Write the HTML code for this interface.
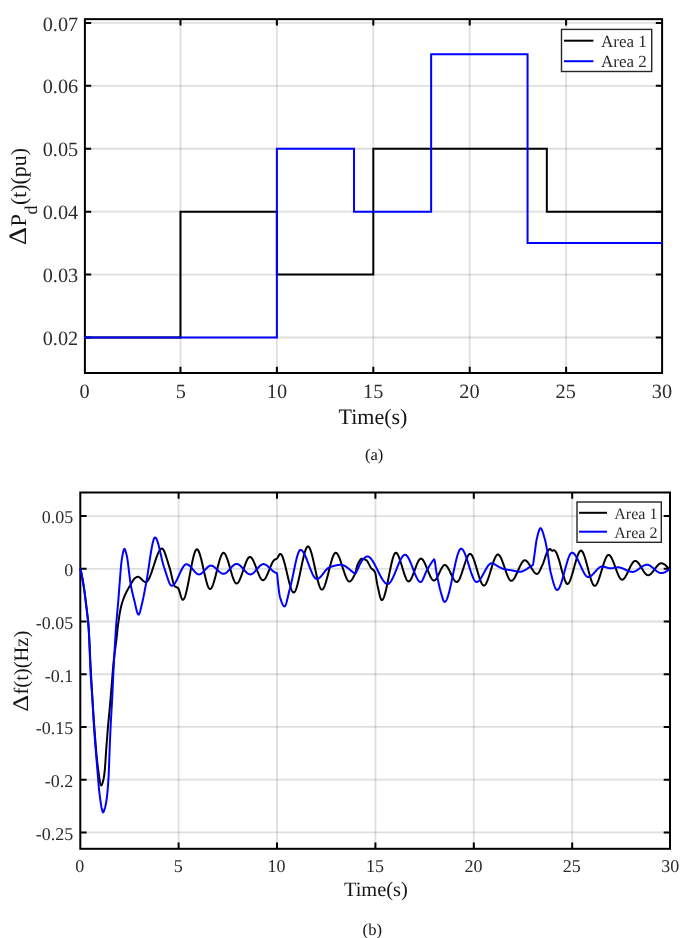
<!DOCTYPE html>
<html><head><meta charset="utf-8"><style>
html,body{margin:0;padding:0;background:#fff;}
body{width:685px;height:938px;position:relative;overflow:hidden;font-family:"Liberation Serif", serif;}
svg{fill:#151515;} svg text{font-family:"Liberation Serif", serif;text-rendering:geometricPrecision;}
</style></head><body>
<svg width="685" height="938" viewBox="0 0 685 938" style="position:absolute;left:0;top:0;will-change:transform">
<line x1="180.47" y1="19.15" x2="180.47" y2="373.00" stroke="#262626" stroke-opacity="0.15" stroke-width="1.8"/>
<line x1="276.88" y1="19.15" x2="276.88" y2="373.00" stroke="#262626" stroke-opacity="0.15" stroke-width="1.8"/>
<line x1="373.30" y1="19.15" x2="373.30" y2="373.00" stroke="#262626" stroke-opacity="0.15" stroke-width="1.8"/>
<line x1="469.71" y1="19.15" x2="469.71" y2="373.00" stroke="#262626" stroke-opacity="0.15" stroke-width="1.8"/>
<line x1="566.12" y1="19.15" x2="566.12" y2="373.00" stroke="#262626" stroke-opacity="0.15" stroke-width="1.8"/>
<line x1="84.90" y1="337.50" x2="662.10" y2="337.50" stroke="#262626" stroke-opacity="0.15" stroke-width="1.8"/>
<line x1="84.90" y1="274.58" x2="662.10" y2="274.58" stroke="#262626" stroke-opacity="0.15" stroke-width="1.8"/>
<line x1="84.90" y1="211.66" x2="662.10" y2="211.66" stroke="#262626" stroke-opacity="0.15" stroke-width="1.8"/>
<line x1="84.90" y1="148.74" x2="662.10" y2="148.74" stroke="#262626" stroke-opacity="0.15" stroke-width="1.8"/>
<line x1="84.90" y1="85.82" x2="662.10" y2="85.82" stroke="#262626" stroke-opacity="0.15" stroke-width="1.8"/>
<line x1="84.90" y1="22.90" x2="662.10" y2="22.90" stroke="#262626" stroke-opacity="0.15" stroke-width="1.8"/>
<path d="M180.47 373.00V366.70M180.47 19.15V25.45M276.88 373.00V366.70M276.88 19.15V25.45M373.30 373.00V366.70M373.30 19.15V25.45M469.71 373.00V366.70M469.71 19.15V25.45M566.12 373.00V366.70M566.12 19.15V25.45M84.90 337.50H91.20M662.10 337.50H655.80M84.90 274.58H91.20M662.10 274.58H655.80M84.90 211.66H91.20M662.10 211.66H655.80M84.90 148.74H91.20M662.10 148.74H655.80M84.90 85.82H91.20M662.10 85.82H655.80M84.90 22.90H91.20M662.10 22.90H655.80" stroke="#000" stroke-width="2.0" fill="none"/>
<rect x="84.90" y="19.15" width="577.20" height="353.85" stroke="#000" stroke-width="2.0" fill="none"/>
<path d="M84.05 337.50 L180.47 337.50 L180.47 211.66 L276.88 211.66 L276.88 274.58 L373.30 274.58 L373.30 148.74 L546.84 148.74 L546.84 211.66 L662.54 211.66" stroke="#000" stroke-width="2.0" fill="none" stroke-linejoin="miter" stroke-miterlimit="10"/>
<path d="M84.05 337.50 L276.88 337.50 L276.88 148.74 L354.01 148.74 L354.01 211.66 L431.14 211.66 L431.14 54.36 L527.56 54.36 L527.56 243.12 L662.54 243.12" stroke="#0000ff" stroke-width="2.0" fill="none" stroke-linejoin="miter" stroke-miterlimit="10"/>
<text x="84.50" y="397.9" font-size="20.3" text-anchor="middle" fill="#2b2b2b">0</text>
<text x="180.75" y="397.9" font-size="20.3" text-anchor="middle" fill="#2b2b2b">5</text>
<text x="277.00" y="397.9" font-size="20.3" text-anchor="middle" fill="#2b2b2b">10</text>
<text x="373.25" y="397.9" font-size="20.3" text-anchor="middle" fill="#2b2b2b">15</text>
<text x="469.50" y="397.9" font-size="20.3" text-anchor="middle" fill="#2b2b2b">20</text>
<text x="565.75" y="397.9" font-size="20.3" text-anchor="middle" fill="#2b2b2b">25</text>
<text x="662.00" y="397.9" font-size="20.3" text-anchor="middle" fill="#2b2b2b">30</text>
<text x="78.2" y="345.10" font-size="20.3" text-anchor="end" fill="#2b2b2b">0.02</text>
<text x="78.2" y="282.18" font-size="20.3" text-anchor="end" fill="#2b2b2b">0.03</text>
<text x="78.2" y="219.26" font-size="20.3" text-anchor="end" fill="#2b2b2b">0.04</text>
<text x="78.2" y="156.34" font-size="20.3" text-anchor="end" fill="#2b2b2b">0.05</text>
<text x="78.2" y="93.42" font-size="20.3" text-anchor="end" fill="#2b2b2b">0.06</text>
<text x="78.2" y="30.50" font-size="20.3" text-anchor="end" fill="#2b2b2b">0.07</text>
<rect x="561.5" y="29.4" width="90.2" height="42.1" fill="#fff" stroke="#262626" stroke-width="1.4"/>
<line x1="564" y1="40.7" x2="593.4" y2="40.7" stroke="#000" stroke-width="2"/>
<line x1="564" y1="61.2" x2="593.4" y2="61.2" stroke="#0000ff" stroke-width="2"/>
<text x="601" y="47.2" font-size="17" fill="#2b2b2b">Area 1</text>
<text x="601" y="67.3" font-size="17" fill="#2b2b2b">Area 2</text>
<text x="373.0" y="423.8" font-size="22" text-anchor="middle">Time(s)</text>
<g transform="translate(25.6 244) rotate(-90)"><text transform="translate(-0.9 0) scale(1.12 1)" x="0" y="0" font-size="25">&#916;</text><text x="17.55" y="0" font-size="22.3">P</text><text x="29.55" y="11.2" font-size="18">d</text><text x="38.9" y="0" font-size="21.9">(t)(pu)</text></g>
<text x="374.1" y="460.2" font-size="16.6" text-anchor="middle">(a)</text>
<line x1="178.60" y1="492.50" x2="178.60" y2="848.80" stroke="#262626" stroke-opacity="0.15" stroke-width="1.8"/>
<line x1="277.00" y1="492.50" x2="277.00" y2="848.80" stroke="#262626" stroke-opacity="0.15" stroke-width="1.8"/>
<line x1="375.40" y1="492.50" x2="375.40" y2="848.80" stroke="#262626" stroke-opacity="0.15" stroke-width="1.8"/>
<line x1="473.80" y1="492.50" x2="473.80" y2="848.80" stroke="#262626" stroke-opacity="0.15" stroke-width="1.8"/>
<line x1="572.20" y1="492.50" x2="572.20" y2="848.80" stroke="#262626" stroke-opacity="0.15" stroke-width="1.8"/>
<line x1="80.30" y1="832.42" x2="670.00" y2="832.42" stroke="#262626" stroke-opacity="0.15" stroke-width="1.8"/>
<line x1="80.30" y1="779.70" x2="670.00" y2="779.70" stroke="#262626" stroke-opacity="0.15" stroke-width="1.8"/>
<line x1="80.30" y1="726.97" x2="670.00" y2="726.97" stroke="#262626" stroke-opacity="0.15" stroke-width="1.8"/>
<line x1="80.30" y1="674.25" x2="670.00" y2="674.25" stroke="#262626" stroke-opacity="0.15" stroke-width="1.8"/>
<line x1="80.30" y1="621.52" x2="670.00" y2="621.52" stroke="#262626" stroke-opacity="0.15" stroke-width="1.8"/>
<line x1="80.30" y1="568.80" x2="670.00" y2="568.80" stroke="#262626" stroke-opacity="0.15" stroke-width="1.8"/>
<line x1="80.30" y1="516.07" x2="670.00" y2="516.07" stroke="#262626" stroke-opacity="0.15" stroke-width="1.8"/>
<path d="M178.60 848.80V842.50M178.60 492.50V498.80M277.00 848.80V842.50M277.00 492.50V498.80M375.40 848.80V842.50M375.40 492.50V498.80M473.80 848.80V842.50M473.80 492.50V498.80M572.20 848.80V842.50M572.20 492.50V498.80M80.30 832.42H86.60M670.00 832.42H663.70M80.30 779.70H86.60M670.00 779.70H663.70M80.30 726.97H86.60M670.00 726.97H663.70M80.30 674.25H86.60M670.00 674.25H663.70M80.30 621.52H86.60M670.00 621.52H663.70M80.30 568.80H86.60M670.00 568.80H663.70M80.30 516.07H86.60M670.00 516.07H663.70" stroke="#000" stroke-width="2.0" fill="none"/>
<rect x="80.30" y="492.50" width="589.70" height="356.30" stroke="#000" stroke-width="2.0" fill="none"/>
<path d="M80.30 568.60 L80.55 569.58 L80.80 570.61 L81.05 571.70 L81.30 572.83 L81.55 574.02 L81.80 575.25 L82.05 576.53 L82.30 577.84 L82.55 579.20 L82.80 580.60 L83.05 582.03 L83.30 583.50 L83.55 585.02 L83.80 586.60 L84.05 588.24 L84.30 589.95 L84.55 591.71 L84.80 593.52 L85.05 595.39 L85.30 597.31 L85.55 599.28 L85.80 601.29 L86.05 603.34 L86.30 605.44 L86.55 607.57 L86.80 609.72 L87.05 611.89 L87.30 614.11 L87.55 616.43 L87.80 618.87 L88.05 621.48 L88.30 624.29 L88.55 627.35 L88.80 630.83 L89.05 634.91 L89.30 639.50 L89.55 644.45 L89.80 649.65 L90.05 654.96 L90.30 660.27 L90.55 665.44 L90.80 670.35 L91.05 674.88 L91.30 679.24 L91.55 683.58 L91.80 687.88 L92.05 692.13 L92.30 696.32 L92.55 700.46 L92.80 704.51 L93.05 708.49 L93.30 712.37 L93.55 716.15 L93.80 719.82 L94.05 723.37 L94.30 726.80 L94.55 730.16 L94.80 733.51 L95.05 736.83 L95.30 740.11 L95.55 743.32 L95.80 746.45 L96.05 749.49 L96.30 752.40 L96.55 755.19 L96.80 757.82 L97.05 760.28 L97.30 762.55 L97.55 764.61 L97.80 766.55 L98.05 768.51 L98.30 770.49 L98.55 772.45 L98.80 774.37 L99.05 776.22 L99.30 777.97 L99.55 779.60 L99.80 781.09 L100.05 782.40 L100.30 783.50 L100.55 784.38 L100.80 785.00 L101.05 785.34 L101.30 785.38 L101.55 785.19 L101.80 784.81 L102.05 784.27 L102.30 783.58 L102.55 782.79 L102.80 781.91 L103.05 780.97 L103.30 779.99 L103.55 778.96 L103.80 777.66 L104.05 776.09 L104.30 774.28 L104.55 772.24 L104.80 770.00 L105.05 767.18 L105.30 763.61 L105.55 759.63 L105.80 755.58 L106.05 751.80 L106.30 748.38 L106.55 745.03 L106.80 741.72 L107.05 738.48 L107.30 735.30 L107.55 732.19 L107.80 729.16 L108.05 726.22 L108.30 723.40 L108.55 720.70 L108.80 718.07 L109.05 715.47 L109.30 712.88 L109.55 710.24 L109.80 707.52 L110.05 704.69 L110.30 701.80 L110.55 698.85 L110.80 695.86 L111.05 692.85 L111.30 689.82 L111.55 686.80 L111.80 683.79 L112.05 680.67 L112.30 677.47 L112.55 674.25 L112.80 671.08 L113.05 668.02 L113.30 665.14 L113.55 662.49 L113.80 660.10 L114.05 657.87 L114.30 655.77 L114.55 653.77 L114.80 651.85 L115.05 649.98 L115.30 648.14 L115.55 646.30 L115.80 644.42 L116.05 642.50 L116.30 640.49 L116.55 638.36 L116.80 636.07 L117.05 633.64 L117.30 631.19 L117.55 628.81 L117.80 626.59 L118.05 624.63 L118.30 622.80 L118.55 621.02 L118.80 619.28 L119.05 617.61 L119.30 615.99 L119.55 614.44 L119.80 612.96 L120.05 611.56 L120.30 610.23 L120.55 609.00 L120.80 607.85 L121.05 606.80 L121.30 605.81 L121.55 604.86 L121.80 603.96 L122.05 603.10 L122.30 602.28 L122.55 601.49 L122.80 600.73 L123.05 600.01 L123.30 599.31 L123.55 598.63 L123.80 597.98 L124.05 597.34 L124.30 596.72 L124.55 596.12 L124.80 595.53 L125.05 594.95 L125.30 594.39 L125.55 593.85 L125.80 593.31 L126.05 592.79 L126.30 592.28 L126.55 591.79 L126.80 591.30 L127.05 590.82 L127.30 590.35 L127.55 589.89 L127.80 589.44 L128.05 589.00 L128.30 588.56 L128.55 588.12 L128.80 587.69 L129.05 587.27 L129.30 586.84 L129.55 586.42 L129.80 586.00 L130.05 585.59 L130.30 585.17 L130.55 584.75 L130.80 584.32 L131.05 583.88 L131.30 583.43 L131.55 582.98 L131.80 582.53 L132.05 582.09 L132.30 581.65 L132.55 581.22 L132.80 580.81 L133.05 580.41 L133.30 580.02 L133.55 579.66 L133.80 579.32 L134.05 579.01 L134.30 578.73 L134.55 578.48 L134.80 578.27 L135.05 578.09 L135.30 577.92 L135.55 577.74 L135.80 577.58 L136.05 577.42 L136.30 577.27 L136.55 577.14 L136.80 577.03 L137.05 576.93 L137.30 576.86 L137.55 576.82 L137.80 576.80 L138.05 576.82 L138.30 576.86 L138.55 576.93 L138.80 577.03 L139.05 577.15 L139.30 577.29 L139.55 577.45 L139.80 577.63 L140.05 577.82 L140.30 578.03 L140.55 578.25 L140.80 578.48 L141.05 578.71 L141.30 578.96 L141.55 579.20 L141.80 579.45 L142.05 579.70 L142.30 579.94 L142.55 580.19 L142.80 580.42 L143.05 580.65 L143.30 580.87 L143.55 581.08 L143.80 581.27 L144.05 581.45 L144.30 581.61 L144.55 581.75 L144.80 581.87 L145.05 581.97 L145.30 582.04 L145.55 582.08 L145.80 582.10 L146.05 582.08 L146.30 582.01 L146.55 581.89 L146.80 581.73 L147.05 581.53 L147.30 581.28 L147.55 581.00 L147.80 580.68 L148.05 580.32 L148.30 579.93 L148.55 579.50 L148.80 579.04 L149.05 578.56 L149.30 578.04 L149.55 577.49 L149.80 576.92 L150.05 576.33 L150.30 575.71 L150.55 575.07 L150.80 574.41 L151.05 573.74 L151.30 573.04 L151.55 572.33 L151.80 571.61 L152.05 570.87 L152.30 570.13 L152.55 569.37 L152.80 568.61 L153.05 567.84 L153.30 567.06 L153.55 566.29 L153.80 565.51 L154.05 564.73 L154.30 563.95 L154.55 563.17 L154.80 562.40 L155.05 561.63 L155.30 560.87 L155.55 560.12 L155.80 559.38 L156.05 558.65 L156.30 557.94 L156.55 557.24 L156.80 556.55 L157.05 555.89 L157.30 555.24 L157.55 554.62 L157.80 554.01 L158.05 553.43 L158.30 552.88 L158.55 552.35 L158.80 551.85 L159.05 551.38 L159.30 550.94 L159.55 550.53 L159.80 550.16 L160.05 549.83 L160.30 549.53 L160.55 549.27 L160.80 549.05 L161.05 548.87 L161.30 548.74 L161.55 548.65 L161.80 548.60 L162.05 548.61 L162.30 548.69 L162.55 548.84 L162.80 549.06 L163.05 549.33 L163.30 549.67 L163.55 550.06 L163.80 550.51 L164.05 551.00 L164.30 551.54 L164.55 552.12 L164.80 552.75 L165.05 553.40 L165.30 554.10 L165.55 554.82 L165.80 555.56 L166.05 556.33 L166.30 557.12 L166.55 557.93 L166.80 558.74 L167.05 559.57 L167.30 560.41 L167.55 561.24 L167.80 562.08 L168.05 562.91 L168.30 563.74 L168.55 564.55 L168.80 565.35 L169.05 566.14 L169.30 566.90 L169.55 567.65 L169.80 568.44 L170.05 569.31 L170.30 570.24 L170.55 571.23 L170.80 572.26 L171.05 573.33 L171.30 574.42 L171.55 575.53 L171.80 576.63 L172.05 577.73 L172.30 578.81 L172.55 579.86 L172.80 580.87 L173.05 581.84 L173.30 582.74 L173.55 583.57 L173.80 584.32 L174.05 584.98 L174.30 585.54 L174.55 585.98 L174.80 586.31 L175.05 586.52 L175.30 586.68 L175.55 586.82 L175.80 586.94 L176.05 587.04 L176.30 587.13 L176.55 587.21 L176.80 587.30 L177.05 587.40 L177.30 587.52 L177.55 587.66 L177.80 587.82 L178.05 588.04 L178.30 588.39 L178.55 588.86 L178.80 589.43 L179.05 590.09 L179.30 590.82 L179.55 591.61 L179.80 592.44 L180.05 593.30 L180.30 594.16 L180.55 595.02 L180.80 595.85 L181.05 596.65 L181.30 597.39 L181.55 598.06 L181.80 598.64 L182.05 599.13 L182.30 599.49 L182.55 599.72 L182.80 599.80 L183.05 599.75 L183.30 599.61 L183.55 599.39 L183.80 599.07 L184.05 598.68 L184.30 598.21 L184.55 597.66 L184.80 597.04 L185.05 596.35 L185.30 595.60 L185.55 594.79 L185.80 593.91 L186.05 592.99 L186.30 592.01 L186.55 590.98 L186.80 589.91 L187.05 588.80 L187.30 587.65 L187.55 586.47 L187.80 585.25 L188.05 584.01 L188.30 582.74 L188.55 581.45 L188.80 580.15 L189.05 578.83 L189.30 577.50 L189.55 576.16 L189.80 574.82 L190.05 573.48 L190.30 572.14 L190.55 570.80 L190.80 569.48 L191.05 568.17 L191.30 566.87 L191.55 565.59 L191.80 564.34 L192.05 563.11 L192.30 561.92 L192.55 560.75 L192.80 559.63 L193.05 558.54 L193.30 557.49 L193.55 556.50 L193.80 555.55 L194.05 554.66 L194.30 553.82 L194.55 553.04 L194.80 552.33 L195.05 551.68 L195.30 551.10 L195.55 550.60 L195.80 550.17 L196.05 549.83 L196.30 549.57 L196.55 549.39 L196.80 549.31 L197.05 549.32 L197.30 549.41 L197.55 549.58 L197.80 549.83 L198.05 550.15 L198.30 550.55 L198.55 551.01 L198.80 551.53 L199.05 552.12 L199.30 552.76 L199.55 553.46 L199.80 554.21 L200.05 555.00 L200.30 555.84 L200.55 556.73 L200.80 557.65 L201.05 558.60 L201.30 559.59 L201.55 560.61 L201.80 561.65 L202.05 562.71 L202.30 563.80 L202.55 564.89 L202.80 566.00 L203.05 567.12 L203.30 568.25 L203.55 569.38 L203.80 570.50 L204.05 571.63 L204.30 572.74 L204.55 573.85 L204.80 574.94 L205.05 576.01 L205.30 577.07 L205.55 578.10 L205.80 579.11 L206.05 580.08 L206.30 581.02 L206.55 581.93 L206.80 582.80 L207.05 583.62 L207.30 584.40 L207.55 585.13 L207.80 585.80 L208.05 586.42 L208.30 586.99 L208.55 587.49 L208.80 587.92 L209.05 588.29 L209.30 588.58 L209.55 588.80 L209.80 588.94 L210.05 589.00 L210.30 588.98 L210.55 588.88 L210.80 588.71 L211.05 588.48 L211.30 588.18 L211.55 587.82 L211.80 587.40 L212.05 586.92 L212.30 586.39 L212.55 585.81 L212.80 585.18 L213.05 584.51 L213.30 583.79 L213.55 583.04 L213.80 582.24 L214.05 581.42 L214.30 580.56 L214.55 579.67 L214.80 578.76 L215.05 577.83 L215.30 576.88 L215.55 575.91 L215.80 574.92 L216.05 573.93 L216.30 572.92 L216.55 571.91 L216.80 570.90 L217.05 569.89 L217.30 568.88 L217.55 567.87 L217.80 566.88 L218.05 565.89 L218.30 564.92 L218.55 563.97 L218.80 563.04 L219.05 562.13 L219.30 561.24 L219.55 560.38 L219.80 559.56 L220.05 558.76 L220.30 558.01 L220.55 557.29 L220.80 556.62 L221.05 555.99 L221.30 555.41 L221.55 554.88 L221.80 554.40 L222.05 553.98 L222.30 553.62 L222.55 553.32 L222.80 553.09 L223.05 552.92 L223.30 552.82 L223.55 552.80 L223.80 552.85 L224.05 552.96 L224.30 553.13 L224.55 553.36 L224.80 553.65 L225.05 553.99 L225.30 554.38 L225.55 554.82 L225.80 555.31 L226.05 555.84 L226.30 556.41 L226.55 557.02 L226.80 557.66 L227.05 558.34 L227.30 559.05 L227.55 559.79 L227.80 560.55 L228.05 561.34 L228.30 562.14 L228.55 562.97 L228.80 563.81 L229.05 564.66 L229.30 565.53 L229.55 566.40 L229.80 567.27 L230.05 568.15 L230.30 569.03 L230.55 569.90 L230.80 570.77 L231.05 571.64 L231.30 572.49 L231.55 573.33 L231.80 574.16 L232.05 574.96 L232.30 575.75 L232.55 576.51 L232.80 577.25 L233.05 577.96 L233.30 578.64 L233.55 579.28 L233.80 579.89 L234.05 580.46 L234.30 580.99 L234.55 581.48 L234.80 581.92 L235.05 582.31 L235.30 582.65 L235.55 582.94 L235.80 583.17 L236.05 583.34 L236.30 583.45 L236.55 583.50 L236.80 583.48 L237.05 583.41 L237.30 583.29 L237.55 583.11 L237.80 582.89 L238.05 582.62 L238.30 582.31 L238.55 581.95 L238.80 581.56 L239.05 581.12 L239.30 580.66 L239.55 580.15 L239.80 579.62 L240.05 579.06 L240.30 578.47 L240.55 577.85 L240.80 577.22 L241.05 576.56 L241.30 575.88 L241.55 575.19 L241.80 574.48 L242.05 573.76 L242.30 573.03 L242.55 572.29 L242.80 571.55 L243.05 570.80 L243.30 570.05 L243.55 569.30 L243.80 568.55 L244.05 567.81 L244.30 567.08 L244.55 566.35 L244.80 565.63 L245.05 564.93 L245.30 564.24 L245.55 563.58 L245.80 562.92 L246.05 562.30 L246.30 561.69 L246.55 561.11 L246.80 560.56 L247.05 560.04 L247.30 559.55 L247.55 559.10 L247.80 558.68 L248.05 558.30 L248.30 557.96 L248.55 557.67 L248.80 557.42 L249.05 557.21 L249.30 557.06 L249.55 556.95 L249.80 556.90 L250.05 556.91 L250.30 556.96 L250.55 557.07 L250.80 557.21 L251.05 557.41 L251.30 557.64 L251.55 557.92 L251.80 558.23 L252.05 558.58 L252.30 558.96 L252.55 559.37 L252.80 559.82 L253.05 560.29 L253.30 560.79 L253.55 561.32 L253.80 561.87 L254.05 562.43 L254.30 563.02 L254.55 563.62 L254.80 564.24 L255.05 564.87 L255.30 565.51 L255.55 566.16 L255.80 566.82 L256.05 567.48 L256.30 568.15 L256.55 568.82 L256.80 569.48 L257.05 570.15 L257.30 570.81 L257.55 571.46 L257.80 572.10 L258.05 572.73 L258.30 573.35 L258.55 573.96 L258.80 574.55 L259.05 575.12 L259.30 575.67 L259.55 576.20 L259.80 576.71 L260.05 577.19 L260.30 577.64 L260.55 578.06 L260.80 578.45 L261.05 578.80 L261.30 579.12 L261.55 579.41 L261.80 579.65 L262.05 579.85 L262.30 580.01 L262.55 580.12 L262.80 580.18 L263.05 580.20 L263.30 580.16 L263.55 580.08 L263.80 579.95 L264.05 579.78 L264.30 579.57 L264.55 579.32 L264.80 579.03 L265.05 578.70 L265.30 578.34 L265.55 577.95 L265.80 577.53 L266.05 577.08 L266.30 576.61 L266.55 576.11 L266.80 575.59 L267.05 575.06 L267.30 574.50 L267.55 573.93 L267.80 573.34 L268.05 572.75 L268.30 572.14 L268.55 571.53 L268.80 570.91 L269.05 570.29 L269.30 569.66 L269.55 569.04 L269.80 568.42 L270.05 567.80 L270.30 567.19 L270.55 566.59 L270.80 566.00 L271.05 565.42 L271.30 564.86 L271.55 564.31 L271.80 563.78 L272.05 563.27 L272.30 562.79 L272.55 562.33 L272.80 561.89 L273.05 561.49 L273.30 561.11 L273.55 560.77 L273.80 560.46 L274.05 560.19 L274.30 559.96 L274.55 559.76 L274.80 559.61 L275.05 559.47 L275.30 559.35 L275.55 559.25 L275.80 559.14 L276.05 559.03 L276.30 558.91 L276.55 558.77 L276.80 558.60 L277.05 558.37 L277.30 558.07 L277.55 557.71 L277.80 557.30 L278.05 556.85 L278.30 556.39 L278.55 555.93 L278.80 555.48 L279.05 555.06 L279.30 554.68 L279.55 554.36 L279.80 554.12 L280.05 553.96 L280.30 553.90 L280.55 553.94 L280.80 554.06 L281.05 554.25 L281.30 554.51 L281.55 554.85 L281.80 555.24 L282.05 555.70 L282.30 556.22 L282.55 556.80 L282.80 557.43 L283.05 558.11 L283.30 558.84 L283.55 559.61 L283.80 560.42 L284.05 561.28 L284.30 562.17 L284.55 563.09 L284.80 564.04 L285.05 565.01 L285.30 566.01 L285.55 567.03 L285.80 568.07 L286.05 569.12 L286.30 570.19 L286.55 571.26 L286.80 572.34 L287.05 573.42 L287.30 574.50 L287.55 575.57 L287.80 576.64 L288.05 577.70 L288.30 578.75 L288.55 579.78 L288.80 580.79 L289.05 581.78 L289.30 582.75 L289.55 583.69 L289.80 584.59 L290.05 585.47 L290.30 586.31 L290.55 587.10 L290.80 587.86 L291.05 588.57 L291.30 589.23 L291.55 589.84 L291.80 590.39 L292.05 590.89 L292.30 591.32 L292.55 591.70 L292.80 592.00 L293.05 592.24 L293.30 592.40 L293.55 592.49 L293.80 592.49 L294.05 592.42 L294.30 592.26 L294.55 592.03 L294.80 591.72 L295.05 591.34 L295.30 590.90 L295.55 590.38 L295.80 589.81 L296.05 589.17 L296.30 588.48 L296.55 587.74 L296.80 586.94 L297.05 586.10 L297.30 585.21 L297.55 584.27 L297.80 583.30 L298.05 582.30 L298.30 581.26 L298.55 580.19 L298.80 579.09 L299.05 577.97 L299.30 576.83 L299.55 575.67 L299.80 574.49 L300.05 573.30 L300.30 572.10 L300.55 570.90 L300.80 569.69 L301.05 568.48 L301.30 567.28 L301.55 566.08 L301.80 564.88 L302.05 563.70 L302.30 562.53 L302.55 561.38 L302.80 560.25 L303.05 559.15 L303.30 558.07 L303.55 557.01 L303.80 555.99 L304.05 555.01 L304.30 554.06 L304.55 553.16 L304.80 552.29 L305.05 551.48 L305.30 550.71 L305.55 550.00 L305.80 549.34 L306.05 548.74 L306.30 548.20 L306.55 547.73 L306.80 547.32 L307.05 546.98 L307.30 546.72 L307.55 546.53 L307.80 546.43 L308.05 546.40 L308.30 546.46 L308.55 546.60 L308.80 546.81 L309.05 547.10 L309.30 547.46 L309.55 547.89 L309.80 548.39 L310.05 548.94 L310.30 549.56 L310.55 550.23 L310.80 550.95 L311.05 551.73 L311.30 552.55 L311.55 553.41 L311.80 554.32 L312.05 555.27 L312.30 556.24 L312.55 557.26 L312.80 558.30 L313.05 559.36 L313.30 560.45 L313.55 561.56 L313.80 562.69 L314.05 563.83 L314.30 564.98 L314.55 566.14 L314.80 567.30 L315.05 568.47 L315.30 569.63 L315.55 570.79 L315.80 571.94 L316.05 573.09 L316.30 574.21 L316.55 575.33 L316.80 576.42 L317.05 577.49 L317.30 578.54 L317.55 579.56 L317.80 580.54 L318.05 581.49 L318.30 582.41 L318.55 583.28 L318.80 584.11 L319.05 584.90 L319.30 585.63 L319.55 586.31 L319.80 586.94 L320.05 587.51 L320.30 588.01 L320.55 588.46 L320.80 588.83 L321.05 589.14 L321.30 589.37 L321.55 589.52 L321.80 589.59 L322.05 589.59 L322.30 589.51 L322.55 589.36 L322.80 589.15 L323.05 588.88 L323.30 588.54 L323.55 588.15 L323.80 587.70 L324.05 587.20 L324.30 586.65 L324.55 586.05 L324.80 585.41 L325.05 584.72 L325.30 584.00 L325.55 583.24 L325.80 582.44 L326.05 581.62 L326.30 580.76 L326.55 579.88 L326.80 578.98 L327.05 578.05 L327.30 577.11 L327.55 576.15 L327.80 575.17 L328.05 574.19 L328.30 573.20 L328.55 572.20 L328.80 571.20 L329.05 570.20 L329.30 569.20 L329.55 568.21 L329.80 567.23 L330.05 566.25 L330.30 565.29 L330.55 564.35 L330.80 563.42 L331.05 562.52 L331.30 561.64 L331.55 560.78 L331.80 559.96 L332.05 559.16 L332.30 558.40 L332.55 557.68 L332.80 556.99 L333.05 556.35 L333.30 555.75 L333.55 555.20 L333.80 554.70 L334.05 554.25 L334.30 553.86 L334.55 553.52 L334.80 553.25 L335.05 553.04 L335.30 552.89 L335.55 552.81 L335.80 552.80 L336.05 552.86 L336.30 552.96 L336.55 553.12 L336.80 553.33 L337.05 553.58 L337.30 553.88 L337.55 554.23 L337.80 554.62 L338.05 555.04 L338.30 555.51 L338.55 556.01 L338.80 556.54 L339.05 557.11 L339.30 557.70 L339.55 558.33 L339.80 558.97 L340.05 559.64 L340.30 560.33 L340.55 561.04 L340.80 561.77 L341.05 562.51 L341.30 563.27 L341.55 564.03 L341.80 564.80 L342.05 565.58 L342.30 566.36 L342.55 567.15 L342.80 567.94 L343.05 568.72 L343.30 569.50 L343.55 570.27 L343.80 571.03 L344.05 571.79 L344.30 572.53 L344.55 573.26 L344.80 573.97 L345.05 574.66 L345.30 575.33 L345.55 575.97 L345.80 576.60 L346.05 577.19 L346.30 577.76 L346.55 578.29 L346.80 578.79 L347.05 579.26 L347.30 579.68 L347.55 580.07 L347.80 580.42 L348.05 580.72 L348.30 580.97 L348.55 581.18 L348.80 581.34 L349.05 581.44 L349.30 581.50 L349.55 581.49 L349.80 581.45 L350.05 581.36 L350.30 581.23 L350.55 581.07 L350.80 580.87 L351.05 580.63 L351.30 580.37 L351.55 580.07 L351.80 579.75 L352.05 579.40 L352.30 579.03 L352.55 578.64 L352.80 578.22 L353.05 577.79 L353.30 577.34 L353.55 576.88 L353.80 576.40 L354.05 575.91 L354.30 575.42 L354.55 574.91 L354.80 574.40 L355.05 573.86 L355.30 573.13 L355.55 572.25 L355.80 571.27 L356.05 570.21 L356.30 569.13 L356.55 568.07 L356.80 567.06 L357.05 566.15 L357.30 565.39 L357.55 564.79 L357.80 564.27 L358.05 563.75 L358.30 563.24 L358.55 562.73 L358.80 562.24 L359.05 561.77 L359.30 561.32 L359.55 560.89 L359.80 560.49 L360.05 560.12 L360.30 559.79 L360.55 559.49 L360.80 559.24 L361.05 559.03 L361.30 558.87 L361.55 558.76 L361.80 558.70 L362.05 558.70 L362.30 558.72 L362.55 558.74 L362.80 558.78 L363.05 558.83 L363.30 558.89 L363.55 558.96 L363.80 559.04 L364.05 559.12 L364.30 559.22 L364.55 559.32 L364.80 559.43 L365.05 559.55 L365.30 559.67 L365.55 559.80 L365.80 559.93 L366.05 560.06 L366.30 560.20 L366.55 560.37 L366.80 560.60 L367.05 560.88 L367.30 561.21 L367.55 561.59 L367.80 561.99 L368.05 562.43 L368.30 562.89 L368.55 563.37 L368.80 563.86 L369.05 564.36 L369.30 564.85 L369.55 565.35 L369.80 565.83 L370.05 566.29 L370.30 566.73 L370.55 567.15 L370.80 567.53 L371.05 567.86 L371.30 568.16 L371.55 568.43 L371.80 568.68 L372.05 568.90 L372.30 569.11 L372.55 569.32 L372.80 569.52 L373.05 569.73 L373.30 569.95 L373.55 570.18 L373.80 570.44 L374.05 570.73 L374.30 571.06 L374.55 571.42 L374.80 571.83 L375.05 572.30 L375.30 573.05 L375.55 574.12 L375.80 575.45 L376.05 576.94 L376.30 578.55 L376.55 580.18 L376.80 581.78 L377.05 583.26 L377.30 584.55 L377.55 585.65 L377.80 586.76 L378.05 587.91 L378.30 589.07 L378.55 590.23 L378.80 591.39 L379.05 592.53 L379.30 593.63 L379.55 594.69 L379.80 595.69 L380.05 596.62 L380.30 597.47 L380.55 598.22 L380.80 598.86 L381.05 599.39 L381.30 599.77 L381.55 600.02 L381.80 600.10 L382.05 600.06 L382.30 599.92 L382.55 599.71 L382.80 599.41 L383.05 599.04 L383.30 598.59 L383.55 598.07 L383.80 597.48 L384.05 596.83 L384.30 596.11 L384.55 595.34 L384.80 594.52 L385.05 593.64 L385.30 592.71 L385.55 591.74 L385.80 590.72 L386.05 589.67 L386.30 588.58 L386.55 587.46 L386.80 586.31 L387.05 585.13 L387.30 583.94 L387.55 582.72 L387.80 581.48 L388.05 580.24 L388.30 578.98 L388.55 577.72 L388.80 576.45 L389.05 575.18 L389.30 573.92 L389.55 572.66 L389.80 571.42 L390.05 570.18 L390.30 568.96 L390.55 567.77 L390.80 566.59 L391.05 565.44 L391.30 564.32 L391.55 563.23 L391.80 562.18 L392.05 561.16 L392.30 560.19 L392.55 559.26 L392.80 558.38 L393.05 557.56 L393.30 556.79 L393.55 556.07 L393.80 555.42 L394.05 554.83 L394.30 554.31 L394.55 553.86 L394.80 553.49 L395.05 553.19 L395.30 552.98 L395.55 552.84 L395.80 552.80 L396.05 552.83 L396.30 552.93 L396.55 553.08 L396.80 553.30 L397.05 553.56 L397.30 553.89 L397.55 554.26 L397.80 554.68 L398.05 555.14 L398.30 555.65 L398.55 556.19 L398.80 556.78 L399.05 557.40 L399.30 558.05 L399.55 558.73 L399.80 559.43 L400.05 560.17 L400.30 560.92 L400.55 561.69 L400.80 562.48 L401.05 563.29 L401.30 564.10 L401.55 564.93 L401.80 565.76 L402.05 566.60 L402.30 567.44 L402.55 568.27 L402.80 569.11 L403.05 569.93 L403.30 570.75 L403.55 571.56 L403.80 572.35 L404.05 573.13 L404.30 573.89 L404.55 574.62 L404.80 575.33 L405.05 576.02 L405.30 576.68 L405.55 577.30 L405.80 577.89 L406.05 578.45 L406.30 578.96 L406.55 579.43 L406.80 579.86 L407.05 580.24 L407.30 580.57 L407.55 580.85 L407.80 581.08 L408.05 581.25 L408.30 581.35 L408.55 581.40 L408.80 581.38 L409.05 581.31 L409.30 581.19 L409.55 581.01 L409.80 580.79 L410.05 580.52 L410.30 580.21 L410.55 579.86 L410.80 579.47 L411.05 579.05 L411.30 578.59 L411.55 578.09 L411.80 577.57 L412.05 577.02 L412.30 576.45 L412.55 575.86 L412.80 575.24 L413.05 574.61 L413.30 573.96 L413.55 573.29 L413.80 572.62 L414.05 571.94 L414.30 571.25 L414.55 570.56 L414.80 569.86 L415.05 569.17 L415.30 568.47 L415.55 567.79 L415.80 567.11 L416.05 566.44 L416.30 565.78 L416.55 565.14 L416.80 564.51 L417.05 563.90 L417.30 563.32 L417.55 562.75 L417.80 562.21 L418.05 561.71 L418.30 561.23 L418.55 560.78 L418.80 560.37 L419.05 559.99 L419.30 559.66 L419.55 559.36 L419.80 559.11 L420.05 558.91 L420.30 558.76 L420.55 558.65 L420.80 558.60 L421.05 558.61 L421.30 558.66 L421.55 558.76 L421.80 558.90 L422.05 559.08 L422.30 559.30 L422.55 559.55 L422.80 559.85 L423.05 560.18 L423.30 560.54 L423.55 560.93 L423.80 561.34 L424.05 561.79 L424.30 562.26 L424.55 562.75 L424.80 563.27 L425.05 563.80 L425.30 564.35 L425.55 564.92 L425.80 565.50 L426.05 566.09 L426.30 566.70 L426.55 567.31 L426.80 567.93 L427.05 568.55 L427.30 569.17 L427.55 569.80 L427.80 570.43 L428.05 571.05 L428.30 571.67 L428.55 572.28 L428.80 572.89 L429.05 573.48 L429.30 574.07 L429.55 574.64 L429.80 575.19 L430.05 575.73 L430.30 576.25 L430.55 576.74 L430.80 577.22 L431.05 577.67 L431.30 578.09 L431.55 578.49 L431.80 578.85 L432.05 579.19 L432.30 579.49 L432.55 579.75 L432.80 579.98 L433.05 580.17 L433.30 580.32 L433.55 580.42 L433.80 580.48 L434.05 580.50 L434.30 580.46 L434.55 580.38 L434.80 580.26 L435.05 580.09 L435.30 579.88 L435.55 579.63 L435.80 579.35 L436.05 579.04 L436.30 578.69 L436.55 578.32 L436.80 577.91 L437.05 577.49 L437.30 577.04 L437.55 576.58 L437.80 576.09 L438.05 575.60 L438.30 575.09 L438.55 574.56 L438.80 574.04 L439.05 573.50 L439.30 572.97 L439.55 572.43 L439.80 571.89 L440.05 571.36 L440.30 570.83 L440.55 570.31 L440.80 569.80 L441.05 569.31 L441.30 568.83 L441.55 568.37 L441.80 567.92 L442.05 567.50 L442.30 567.11 L442.55 566.74 L442.80 566.40 L443.05 566.09 L443.30 565.81 L443.55 565.57 L443.80 565.37 L444.05 565.21 L444.30 565.10 L444.55 565.02 L444.80 565.00 L445.05 565.02 L445.30 565.09 L445.55 565.19 L445.80 565.33 L446.05 565.51 L446.30 565.73 L446.55 565.98 L446.80 566.26 L447.05 566.57 L447.30 566.91 L447.55 567.27 L447.80 567.66 L448.05 568.07 L448.30 568.49 L448.55 568.94 L448.80 569.41 L449.05 569.89 L449.30 570.38 L449.55 570.88 L449.80 571.39 L450.05 571.91 L450.30 572.44 L450.55 572.97 L450.80 573.50 L451.05 574.03 L451.30 574.56 L451.55 575.09 L451.80 575.61 L452.05 576.12 L452.30 576.62 L452.55 577.11 L452.80 577.59 L453.05 578.06 L453.30 578.51 L453.55 578.93 L453.80 579.34 L454.05 579.73 L454.30 580.09 L454.55 580.43 L454.80 580.74 L455.05 581.02 L455.30 581.27 L455.55 581.49 L455.80 581.67 L456.05 581.81 L456.30 581.91 L456.55 581.98 L456.80 582.00 L457.05 581.97 L457.30 581.88 L457.55 581.74 L457.80 581.55 L458.05 581.30 L458.30 581.01 L458.55 580.67 L458.80 580.28 L459.05 579.86 L459.30 579.39 L459.55 578.89 L459.80 578.36 L460.05 577.79 L460.30 577.19 L460.55 576.56 L460.80 575.90 L461.05 575.23 L461.30 574.53 L461.55 573.81 L461.80 573.07 L462.05 572.32 L462.30 571.56 L462.55 570.78 L462.80 570.00 L463.05 569.22 L463.30 568.43 L463.55 567.63 L463.80 566.84 L464.05 566.05 L464.30 565.27 L464.55 564.50 L464.80 563.73 L465.05 562.98 L465.30 562.24 L465.55 561.52 L465.80 560.81 L466.05 560.13 L466.30 559.47 L466.55 558.84 L466.80 558.23 L467.05 557.66 L467.30 557.11 L467.55 556.60 L467.80 556.13 L468.05 555.70 L468.30 555.30 L468.55 554.96 L468.80 554.65 L469.05 554.40 L469.30 554.19 L469.55 554.04 L469.80 553.94 L470.05 553.90 L470.30 553.92 L470.55 554.00 L470.80 554.14 L471.05 554.33 L471.30 554.58 L471.55 554.87 L471.80 555.22 L472.05 555.61 L472.30 556.05 L472.55 556.53 L472.80 557.06 L473.05 557.61 L473.30 558.21 L473.55 558.84 L473.80 559.50 L474.05 560.18 L474.30 560.90 L474.55 561.64 L474.80 562.40 L475.05 563.18 L475.30 563.98 L475.55 564.79 L475.80 565.62 L476.05 566.46 L476.30 567.30 L476.55 568.16 L476.80 569.01 L477.05 569.87 L477.30 570.73 L477.55 571.59 L477.80 572.44 L478.05 573.28 L478.30 574.11 L478.55 574.93 L478.80 575.74 L479.05 576.53 L479.30 577.31 L479.55 578.06 L479.80 578.79 L480.05 579.49 L480.30 580.17 L480.55 580.82 L480.80 581.43 L481.05 582.01 L481.30 582.56 L481.55 583.06 L481.80 583.53 L482.05 583.95 L482.30 584.32 L482.55 584.65 L482.80 584.93 L483.05 585.16 L483.30 585.33 L483.55 585.44 L483.80 585.50 L484.05 585.49 L484.30 585.43 L484.55 585.31 L484.80 585.13 L485.05 584.91 L485.30 584.63 L485.55 584.31 L485.80 583.94 L486.05 583.53 L486.30 583.08 L486.55 582.59 L486.80 582.06 L487.05 581.50 L487.30 580.90 L487.55 580.28 L487.80 579.62 L488.05 578.94 L488.30 578.24 L488.55 577.51 L488.80 576.77 L489.05 576.00 L489.30 575.22 L489.55 574.43 L489.80 573.62 L490.05 572.81 L490.30 571.99 L490.55 571.16 L490.80 570.33 L491.05 569.50 L491.30 568.67 L491.55 567.85 L491.80 567.03 L492.05 566.21 L492.30 565.41 L492.55 564.62 L492.80 563.84 L493.05 563.08 L493.30 562.34 L493.55 561.62 L493.80 560.92 L494.05 560.24 L494.30 559.60 L494.55 558.98 L494.80 558.39 L495.05 557.83 L495.30 557.31 L495.55 556.83 L495.80 556.38 L496.05 555.98 L496.30 555.62 L496.55 555.31 L496.80 555.04 L497.05 554.83 L497.30 554.67 L497.55 554.56 L497.80 554.50 L498.05 554.51 L498.30 554.57 L498.55 554.68 L498.80 554.84 L499.05 555.05 L499.30 555.30 L499.55 555.60 L499.80 555.94 L500.05 556.31 L500.30 556.73 L500.55 557.18 L500.80 557.66 L501.05 558.18 L501.30 558.72 L501.55 559.29 L501.80 559.89 L502.05 560.51 L502.30 561.14 L502.55 561.80 L502.80 562.48 L503.05 563.17 L503.30 563.87 L503.55 564.58 L503.80 565.31 L504.05 566.03 L504.30 566.77 L504.55 567.50 L504.80 568.24 L505.05 568.97 L505.30 569.70 L505.55 570.43 L505.80 571.15 L506.05 571.85 L506.30 572.55 L506.55 573.23 L506.80 573.89 L507.05 574.54 L507.30 575.17 L507.55 575.77 L507.80 576.35 L508.05 576.91 L508.30 577.44 L508.55 577.93 L508.80 578.40 L509.05 578.82 L509.30 579.22 L509.55 579.57 L509.80 579.89 L510.05 580.16 L510.30 580.38 L510.55 580.56 L510.80 580.69 L511.05 580.77 L511.30 580.80 L511.55 580.78 L511.80 580.72 L512.05 580.62 L512.30 580.48 L512.55 580.31 L512.80 580.10 L513.05 579.86 L513.30 579.58 L513.55 579.28 L513.80 578.95 L514.05 578.59 L514.30 578.21 L514.55 577.81 L514.80 577.38 L515.05 576.93 L515.30 576.47 L515.55 575.98 L515.80 575.49 L516.05 574.97 L516.30 574.45 L516.55 573.91 L516.80 573.36 L517.05 572.81 L517.30 572.25 L517.55 571.69 L517.80 571.12 L518.05 570.55 L518.30 569.98 L518.55 569.41 L518.80 568.85 L519.05 568.29 L519.30 567.74 L519.55 567.19 L519.80 566.65 L520.05 566.13 L520.30 565.61 L520.55 565.12 L520.80 564.63 L521.05 564.17 L521.30 563.72 L521.55 563.29 L521.80 562.89 L522.05 562.51 L522.30 562.15 L522.55 561.82 L522.80 561.52 L523.05 561.24 L523.30 561.00 L523.55 560.79 L523.80 560.62 L524.05 560.48 L524.30 560.38 L524.55 560.32 L524.80 560.30 L525.05 560.32 L525.30 560.37 L525.55 560.45 L525.80 560.56 L526.05 560.70 L526.30 560.87 L526.55 561.06 L526.80 561.28 L527.05 561.52 L527.30 561.78 L527.55 562.06 L527.80 562.36 L528.05 562.68 L528.30 563.02 L528.55 563.36 L528.80 563.73 L529.05 564.10 L529.30 564.49 L529.55 564.88 L529.80 565.28 L530.05 565.69 L530.30 566.10 L530.55 566.52 L530.80 566.93 L531.05 567.35 L531.30 567.77 L531.55 568.18 L531.80 568.59 L532.05 569.00 L532.30 569.40 L532.55 569.79 L532.80 570.17 L533.05 570.55 L533.30 570.91 L533.55 571.25 L533.80 571.58 L534.05 571.90 L534.30 572.20 L534.55 572.47 L534.80 572.73 L535.05 572.97 L535.30 573.18 L535.55 573.37 L535.80 573.53 L536.05 573.67 L536.30 573.77 L536.55 573.85 L536.80 573.89 L537.05 573.90 L537.30 573.85 L537.55 573.75 L537.80 573.59 L538.05 573.37 L538.30 573.11 L538.55 572.80 L538.80 572.45 L539.05 572.06 L539.30 571.63 L539.55 571.18 L539.80 570.70 L540.05 570.19 L540.30 569.67 L540.55 569.13 L540.80 568.58 L541.05 568.02 L541.30 567.45 L541.55 566.89 L541.80 566.33 L542.05 565.78 L542.30 565.23 L542.55 564.70 L542.80 564.17 L543.05 563.58 L543.30 562.94 L543.55 562.25 L543.80 561.54 L544.05 560.79 L544.30 560.03 L544.55 559.25 L544.80 558.47 L545.05 557.69 L545.30 556.92 L545.55 556.17 L545.80 555.44 L546.05 554.74 L546.30 554.09 L546.55 553.48 L546.80 552.92 L547.05 552.43 L547.30 552.00 L547.55 551.60 L547.80 551.20 L548.05 550.81 L548.30 550.42 L548.55 550.06 L548.80 549.74 L549.05 549.46 L549.30 549.24 L549.55 549.09 L549.80 549.01 L550.05 549.02 L550.30 549.13 L550.55 549.32 L550.80 549.57 L551.05 549.84 L551.30 550.12 L551.55 550.38 L551.80 550.60 L552.05 550.75 L552.30 550.80 L552.55 550.75 L552.80 550.63 L553.05 550.47 L553.30 550.32 L553.55 550.22 L553.80 550.21 L554.05 550.26 L554.30 550.38 L554.55 550.54 L554.80 550.74 L555.05 550.96 L555.30 551.20 L555.55 551.45 L555.80 551.76 L556.05 552.14 L556.30 552.59 L556.55 553.10 L556.80 553.66 L557.05 554.28 L557.30 554.93 L557.55 555.62 L557.80 556.34 L558.05 557.07 L558.30 557.81 L558.55 558.56 L558.80 559.31 L559.05 560.05 L559.30 560.83 L559.55 561.69 L559.80 562.60 L560.05 563.56 L560.30 564.54 L560.55 565.55 L560.80 566.57 L561.05 567.58 L561.30 568.58 L561.55 569.56 L561.80 570.49 L562.05 571.37 L562.30 572.20 L562.55 572.95 L562.80 573.69 L563.05 574.45 L563.30 575.24 L563.55 576.03 L563.80 576.82 L564.05 577.60 L564.30 578.38 L564.55 579.13 L564.80 579.85 L565.05 580.54 L565.30 581.19 L565.55 581.79 L565.80 582.33 L566.05 582.81 L566.30 583.22 L566.55 583.55 L566.80 583.80 L567.05 583.95 L567.30 584.00 L567.55 583.97 L567.80 583.87 L568.05 583.71 L568.30 583.49 L568.55 583.22 L568.80 582.89 L569.05 582.50 L569.30 582.07 L569.55 581.59 L569.80 581.07 L570.05 580.50 L570.30 579.90 L570.55 579.25 L570.80 578.57 L571.05 577.86 L571.30 577.12 L571.55 576.35 L571.80 575.56 L572.05 574.74 L572.30 573.90 L572.55 573.04 L572.80 572.17 L573.05 571.29 L573.30 570.39 L573.55 569.49 L573.80 568.58 L574.05 567.67 L574.30 566.75 L574.55 565.84 L574.80 564.93 L575.05 564.03 L575.30 563.13 L575.55 562.25 L575.80 561.38 L576.05 560.53 L576.30 559.70 L576.55 558.88 L576.80 558.09 L577.05 557.33 L577.30 556.59 L577.55 555.89 L577.80 555.22 L578.05 554.58 L578.30 553.98 L578.55 553.42 L578.80 552.91 L579.05 552.44 L579.30 552.02 L579.55 551.64 L579.80 551.32 L580.05 551.06 L580.30 550.85 L580.55 550.71 L580.80 550.62 L581.05 550.60 L581.30 550.65 L581.55 550.77 L581.80 550.95 L582.05 551.19 L582.30 551.49 L582.55 551.85 L582.80 552.26 L583.05 552.73 L583.30 553.24 L583.55 553.80 L583.80 554.41 L584.05 555.06 L584.30 555.74 L584.55 556.47 L584.80 557.22 L585.05 558.01 L585.30 558.83 L585.55 559.67 L585.80 560.54 L586.05 561.42 L586.30 562.33 L586.55 563.25 L586.80 564.18 L587.05 565.13 L587.30 566.08 L587.55 567.04 L587.80 568.01 L588.05 568.97 L588.30 569.93 L588.55 570.89 L588.80 571.84 L589.05 572.78 L589.30 573.70 L589.55 574.62 L589.80 575.51 L590.05 576.39 L590.30 577.24 L590.55 578.07 L590.80 578.87 L591.05 579.64 L591.30 580.37 L591.55 581.07 L591.80 581.74 L592.05 582.36 L592.30 582.94 L592.55 583.47 L592.80 583.96 L593.05 584.39 L593.30 584.77 L593.55 585.10 L593.80 585.36 L594.05 585.57 L594.30 585.71 L594.55 585.79 L594.80 585.80 L595.05 585.74 L595.30 585.63 L595.55 585.47 L595.80 585.25 L596.05 584.98 L596.30 584.67 L596.55 584.30 L596.80 583.90 L597.05 583.45 L597.30 582.96 L597.55 582.44 L597.80 581.87 L598.05 581.28 L598.30 580.66 L598.55 580.00 L598.80 579.32 L599.05 578.62 L599.30 577.89 L599.55 577.14 L599.80 576.37 L600.05 575.59 L600.30 574.80 L600.55 573.99 L600.80 573.17 L601.05 572.35 L601.30 571.52 L601.55 570.68 L601.80 569.85 L602.05 569.02 L602.30 568.19 L602.55 567.37 L602.80 566.55 L603.05 565.74 L603.30 564.95 L603.55 564.17 L603.80 563.41 L604.05 562.67 L604.30 561.94 L604.55 561.24 L604.80 560.57 L605.05 559.92 L605.30 559.30 L605.55 558.71 L605.80 558.16 L606.05 557.64 L606.30 557.16 L606.55 556.72 L606.80 556.32 L607.05 555.97 L607.30 555.66 L607.55 555.40 L607.80 555.20 L608.05 555.04 L608.30 554.94 L608.55 554.90 L608.80 554.92 L609.05 554.98 L609.30 555.09 L609.55 555.25 L609.80 555.45 L610.05 555.70 L610.30 555.98 L610.55 556.30 L610.80 556.66 L611.05 557.05 L611.30 557.48 L611.55 557.94 L611.80 558.42 L612.05 558.93 L612.30 559.47 L612.55 560.03 L612.80 560.61 L613.05 561.21 L613.30 561.82 L613.55 562.46 L613.80 563.10 L614.05 563.76 L614.30 564.43 L614.55 565.11 L614.80 565.79 L615.05 566.47 L615.30 567.16 L615.55 567.85 L615.80 568.54 L616.05 569.22 L616.30 569.90 L616.55 570.57 L616.80 571.23 L617.05 571.89 L617.30 572.52 L617.55 573.15 L617.80 573.75 L618.05 574.34 L618.30 574.91 L618.55 575.46 L618.80 575.98 L619.05 576.47 L619.30 576.94 L619.55 577.38 L619.80 577.79 L620.05 578.16 L620.30 578.49 L620.55 578.79 L620.80 579.05 L621.05 579.27 L621.30 579.45 L621.55 579.58 L621.80 579.66 L622.05 579.70 L622.30 579.69 L622.55 579.63 L622.80 579.54 L623.05 579.42 L623.30 579.26 L623.55 579.06 L623.80 578.83 L624.05 578.57 L624.30 578.29 L624.55 577.97 L624.80 577.63 L625.05 577.27 L625.30 576.88 L625.55 576.48 L625.80 576.05 L626.05 575.60 L626.30 575.14 L626.55 574.67 L626.80 574.18 L627.05 573.68 L627.30 573.16 L627.55 572.65 L627.80 572.12 L628.05 571.59 L628.30 571.05 L628.55 570.52 L628.80 569.98 L629.05 569.44 L629.30 568.91 L629.55 568.37 L629.80 567.85 L630.05 567.33 L630.30 566.82 L630.55 566.32 L630.80 565.84 L631.05 565.36 L631.30 564.91 L631.55 564.47 L631.80 564.04 L632.05 563.64 L632.30 563.26 L632.55 562.90 L632.80 562.56 L633.05 562.25 L633.30 561.97 L633.55 561.72 L633.80 561.50 L634.05 561.31 L634.30 561.15 L634.55 561.03 L634.80 560.95 L635.05 560.91 L635.30 560.90 L635.55 560.93 L635.80 560.99 L636.05 561.08 L636.30 561.19 L636.55 561.34 L636.80 561.51 L637.05 561.70 L637.30 561.91 L637.55 562.15 L637.80 562.41 L638.05 562.69 L638.30 562.98 L638.55 563.29 L638.80 563.62 L639.05 563.96 L639.30 564.32 L639.55 564.68 L639.80 565.06 L640.05 565.44 L640.30 565.84 L640.55 566.24 L640.80 566.64 L641.05 567.06 L641.30 567.47 L641.55 567.88 L641.80 568.30 L642.05 568.71 L642.30 569.13 L642.55 569.54 L642.80 569.94 L643.05 570.34 L643.30 570.73 L643.55 571.12 L643.80 571.49 L644.05 571.86 L644.30 572.21 L644.55 572.55 L644.80 572.87 L645.05 573.18 L645.30 573.47 L645.55 573.74 L645.80 574.00 L646.05 574.23 L646.30 574.44 L646.55 574.63 L646.80 574.79 L647.05 574.93 L647.30 575.04 L647.55 575.12 L647.80 575.18 L648.05 575.20 L648.30 575.19 L648.55 575.16 L648.80 575.10 L649.05 575.02 L649.30 574.92 L649.55 574.79 L649.80 574.65 L650.05 574.49 L650.30 574.31 L650.55 574.11 L650.80 573.89 L651.05 573.66 L651.30 573.42 L651.55 573.16 L651.80 572.89 L652.05 572.61 L652.30 572.31 L652.55 572.01 L652.80 571.70 L653.05 571.39 L653.30 571.06 L653.55 570.73 L653.80 570.40 L654.05 570.07 L654.30 569.73 L654.55 569.39 L654.80 569.05 L655.05 568.71 L655.30 568.37 L655.55 568.03 L655.80 567.70 L656.05 567.37 L656.30 567.05 L656.55 566.73 L656.80 566.43 L657.05 566.13 L657.30 565.84 L657.55 565.56 L657.80 565.29 L658.05 565.03 L658.30 564.79 L658.55 564.56 L658.80 564.35 L659.05 564.16 L659.30 563.98 L659.55 563.82 L659.80 563.68 L660.05 563.56 L660.30 563.46 L660.55 563.38 L660.80 563.33 L661.05 563.30 L661.30 563.30 L661.55 563.31 L661.80 563.34 L662.05 563.38 L662.30 563.43 L662.55 563.50 L662.80 563.58 L663.05 563.67 L663.30 563.77 L663.55 563.89 L663.80 564.02 L664.05 564.16 L664.30 564.32 L664.55 564.48 L664.80 564.66 L665.05 564.85 L665.30 565.05 L665.55 565.26 L665.80 565.48 L666.05 565.71 L666.30 565.96 L666.55 566.21 L666.80 566.48 L667.05 566.75 L667.30 567.03 L667.55 567.33 L667.80 567.63 L668.05 567.95 L668.30 568.27 L668.55 568.60 L668.80 568.94 L669.05 569.29 L669.30 569.65 L669.55 570.02 L669.80 570.39 L670.00 570.70" stroke="#000" stroke-width="2.0" fill="none" stroke-linejoin="round" stroke-miterlimit="10"/>
<path d="M80.30 568.60 L80.55 569.60 L80.80 570.66 L81.05 571.77 L81.30 572.93 L81.55 574.15 L81.80 575.41 L82.05 576.72 L82.30 578.08 L82.55 579.47 L82.80 580.91 L83.05 582.39 L83.30 583.90 L83.55 585.48 L83.80 587.16 L84.05 588.93 L84.30 590.77 L84.55 592.68 L84.80 594.64 L85.05 596.65 L85.30 598.69 L85.55 600.75 L85.80 602.82 L86.05 604.89 L86.30 606.95 L86.55 608.99 L86.80 611.00 L87.05 612.89 L87.30 614.65 L87.55 616.42 L87.80 618.30 L88.05 620.42 L88.30 622.89 L88.55 625.97 L88.80 630.19 L89.05 635.35 L89.30 641.21 L89.55 647.49 L89.80 653.94 L90.05 660.29 L90.30 666.29 L90.55 671.67 L90.80 676.23 L91.05 680.29 L91.30 684.05 L91.55 687.63 L91.80 691.14 L92.05 694.71 L92.30 698.44 L92.55 702.44 L92.80 706.69 L93.05 711.08 L93.30 715.49 L93.55 719.82 L93.80 723.93 L94.05 727.73 L94.30 731.32 L94.55 734.77 L94.80 738.11 L95.05 741.35 L95.30 744.52 L95.55 747.62 L95.80 750.68 L96.05 753.71 L96.30 756.72 L96.55 759.74 L96.80 762.78 L97.05 765.82 L97.30 768.80 L97.55 771.80 L97.80 774.80 L98.05 777.80 L98.30 780.82 L98.55 784.00 L98.80 787.06 L99.05 789.68 L99.30 791.94 L99.55 794.00 L99.80 795.91 L100.05 797.73 L100.30 799.52 L100.55 801.35 L100.80 803.16 L101.05 804.87 L101.30 806.43 L101.55 807.75 L101.80 808.80 L102.05 809.80 L102.30 810.74 L102.55 811.55 L102.80 812.13 L103.05 812.39 L103.30 812.31 L103.55 811.99 L103.80 811.46 L104.05 810.80 L104.30 810.03 L104.55 809.21 L104.80 808.40 L105.05 807.54 L105.30 806.55 L105.55 805.44 L105.80 804.21 L106.05 802.86 L106.30 801.39 L106.55 799.81 L106.80 798.08 L107.05 795.99 L107.30 793.57 L107.55 790.89 L107.80 788.03 L108.05 784.81 L108.30 781.18 L108.55 777.11 L108.80 772.30 L109.05 765.41 L109.30 758.36 L109.55 751.66 L109.80 745.23 L110.05 739.10 L110.30 733.29 L110.55 727.85 L110.80 722.83 L111.05 718.28 L111.30 714.00 L111.55 709.81 L111.80 705.53 L112.05 700.96 L112.30 695.94 L112.55 690.54 L112.80 685.00 L113.05 679.57 L113.30 674.50 L113.55 669.72 L113.80 664.98 L114.05 660.32 L114.30 655.74 L114.55 651.25 L114.80 646.86 L115.05 642.61 L115.30 638.49 L115.55 634.52 L115.80 630.71 L116.05 627.08 L116.30 623.66 L116.55 620.48 L116.80 617.51 L117.05 614.69 L117.30 611.97 L117.55 609.28 L117.80 606.56 L118.05 603.76 L118.30 600.83 L118.55 597.68 L118.80 594.33 L119.05 590.90 L119.30 587.54 L119.55 584.39 L119.80 581.23 L120.05 578.01 L120.30 574.78 L120.55 571.62 L120.80 568.60 L121.05 565.80 L121.30 563.28 L121.55 561.13 L121.80 559.40 L122.05 557.92 L122.30 556.46 L122.55 555.05 L122.80 553.72 L123.05 552.50 L123.30 551.41 L123.55 550.50 L123.80 549.77 L124.05 549.27 L124.30 549.02 L124.55 549.04 L124.80 549.30 L125.05 549.75 L125.30 550.37 L125.55 551.12 L125.80 551.97 L126.05 552.90 L126.30 553.85 L126.55 554.81 L126.80 555.83 L127.05 557.08 L127.30 558.53 L127.55 560.16 L127.80 561.93 L128.05 563.83 L128.30 565.82 L128.55 567.88 L128.80 569.98 L129.05 572.10 L129.30 574.20 L129.55 576.26 L129.80 578.25 L130.05 580.15 L130.30 581.92 L130.55 583.55 L130.80 585.00 L131.05 586.33 L131.30 587.61 L131.55 588.84 L131.80 590.03 L132.05 591.18 L132.30 592.30 L132.55 593.38 L132.80 594.44 L133.05 595.47 L133.30 596.48 L133.55 597.47 L133.80 598.44 L134.05 599.41 L134.30 600.39 L134.55 601.42 L134.80 602.49 L135.05 603.59 L135.30 604.70 L135.55 605.82 L135.80 606.93 L136.05 608.01 L136.30 609.05 L136.55 610.04 L136.80 610.97 L137.05 611.83 L137.30 612.59 L137.55 613.25 L137.80 613.79 L138.05 614.21 L138.30 614.48 L138.55 614.60 L138.80 614.53 L139.05 614.28 L139.30 613.85 L139.55 613.27 L139.80 612.56 L140.05 611.73 L140.30 610.81 L140.55 609.81 L140.80 608.76 L141.05 607.68 L141.30 606.58 L141.55 605.48 L141.80 604.42 L142.05 603.40 L142.30 602.40 L142.55 601.34 L142.80 600.23 L143.05 599.07 L143.30 597.87 L143.55 596.63 L143.80 595.37 L144.05 594.09 L144.30 592.78 L144.55 591.47 L144.80 590.16 L145.05 588.85 L145.30 587.55 L145.55 586.26 L145.80 585.00 L146.05 583.72 L146.30 582.37 L146.55 580.95 L146.80 579.49 L147.05 577.98 L147.30 576.42 L147.55 574.82 L147.80 573.20 L148.05 571.54 L148.30 569.87 L148.55 568.18 L148.80 566.48 L149.05 564.78 L149.30 563.08 L149.55 561.38 L149.80 559.70 L150.05 558.04 L150.30 556.41 L150.55 554.80 L150.80 553.23 L151.05 551.70 L151.30 550.22 L151.55 548.79 L151.80 547.42 L152.05 546.12 L152.30 544.88 L152.55 543.72 L152.80 542.64 L153.05 541.65 L153.30 540.75 L153.55 539.94 L153.80 539.24 L154.05 538.65 L154.30 538.18 L154.55 537.83 L154.80 537.60 L155.05 537.50 L155.30 537.53 L155.55 537.66 L155.80 537.87 L156.05 538.17 L156.30 538.56 L156.55 539.02 L156.80 539.56 L157.05 540.16 L157.30 540.83 L157.55 541.56 L157.80 542.34 L158.05 543.18 L158.30 544.06 L158.55 544.99 L158.80 545.95 L159.05 546.95 L159.30 547.98 L159.55 549.03 L159.80 550.11 L160.05 551.20 L160.30 552.30 L160.55 553.41 L160.80 554.52 L161.05 555.63 L161.30 556.74 L161.55 557.83 L161.80 558.92 L162.05 559.98 L162.30 561.02 L162.55 562.03 L162.80 563.01 L163.05 563.95 L163.30 564.86 L163.55 565.71 L163.80 566.52 L164.05 567.28 L164.30 567.98 L164.55 568.69 L164.80 569.43 L165.05 570.18 L165.30 570.95 L165.55 571.73 L165.80 572.52 L166.05 573.32 L166.30 574.12 L166.55 574.92 L166.80 575.71 L167.05 576.50 L167.30 577.28 L167.55 578.04 L167.80 578.79 L168.05 579.52 L168.30 580.22 L168.55 580.90 L168.80 581.54 L169.05 582.16 L169.30 582.74 L169.55 583.27 L169.80 583.77 L170.05 584.22 L170.30 584.62 L170.55 584.97 L170.80 585.26 L171.05 585.49 L171.30 585.66 L171.55 585.76 L171.80 585.80 L172.05 585.78 L172.30 585.73 L172.55 585.63 L172.80 585.51 L173.05 585.35 L173.30 585.16 L173.55 584.94 L173.80 584.70 L174.05 584.42 L174.30 584.12 L174.55 583.79 L174.80 583.44 L175.05 583.07 L175.30 582.67 L175.55 582.26 L175.80 581.82 L176.05 581.37 L176.30 580.91 L176.55 580.43 L176.80 579.94 L177.05 579.43 L177.30 578.91 L177.55 578.39 L177.80 577.85 L178.05 577.31 L178.30 576.77 L178.55 576.22 L178.80 575.67 L179.05 575.11 L179.30 574.56 L179.55 574.00 L179.80 573.45 L180.05 572.90 L180.30 572.36 L180.55 571.82 L180.80 571.30 L181.05 570.78 L181.30 570.27 L181.55 569.77 L181.80 569.28 L182.05 568.81 L182.30 568.35 L182.55 567.91 L182.80 567.49 L183.05 567.09 L183.30 566.71 L183.55 566.35 L183.80 566.01 L184.05 565.70 L184.30 565.41 L184.55 565.15 L184.80 564.92 L185.05 564.72 L185.30 564.55 L185.55 564.41 L185.80 564.31 L186.05 564.24 L186.30 564.20 L186.55 564.20 L186.80 564.23 L187.05 564.28 L187.30 564.35 L187.55 564.44 L187.80 564.55 L188.05 564.68 L188.30 564.83 L188.55 564.99 L188.80 565.17 L189.05 565.36 L189.30 565.57 L189.55 565.79 L189.80 566.03 L190.05 566.27 L190.30 566.53 L190.55 566.79 L190.80 567.06 L191.05 567.34 L191.30 567.63 L191.55 567.92 L191.80 568.21 L192.05 568.51 L192.30 568.81 L192.55 569.12 L192.80 569.42 L193.05 569.72 L193.30 570.03 L193.55 570.33 L193.80 570.62 L194.05 570.91 L194.30 571.20 L194.55 571.48 L194.80 571.76 L195.05 572.02 L195.30 572.28 L195.55 572.52 L195.80 572.76 L196.05 572.98 L196.30 573.20 L196.55 573.39 L196.80 573.58 L197.05 573.74 L197.30 573.89 L197.55 574.03 L197.80 574.14 L198.05 574.23 L198.30 574.31 L198.55 574.36 L198.80 574.39 L199.05 574.40 L199.30 574.38 L199.55 574.35 L199.80 574.29 L200.05 574.21 L200.30 574.11 L200.55 573.99 L200.80 573.86 L201.05 573.71 L201.30 573.54 L201.55 573.36 L201.80 573.17 L202.05 572.96 L202.30 572.75 L202.55 572.52 L202.80 572.28 L203.05 572.04 L203.30 571.78 L203.55 571.52 L203.80 571.26 L204.05 570.99 L204.30 570.72 L204.55 570.44 L204.80 570.17 L205.05 569.89 L205.30 569.61 L205.55 569.34 L205.80 569.06 L206.05 568.79 L206.30 568.53 L206.55 568.27 L206.80 568.01 L207.05 567.77 L207.30 567.53 L207.55 567.30 L207.80 567.08 L208.05 566.87 L208.30 566.68 L208.55 566.49 L208.80 566.33 L209.05 566.17 L209.30 566.03 L209.55 565.91 L209.80 565.81 L210.05 565.73 L210.30 565.66 L210.55 565.62 L210.80 565.60 L211.05 565.60 L211.30 565.62 L211.55 565.66 L211.80 565.72 L212.05 565.79 L212.30 565.88 L212.55 565.99 L212.80 566.10 L213.05 566.23 L213.30 566.38 L213.55 566.54 L213.80 566.70 L214.05 566.88 L214.30 567.07 L214.55 567.27 L214.80 567.47 L215.05 567.68 L215.30 567.90 L215.55 568.13 L215.80 568.36 L216.05 568.59 L216.30 568.83 L216.55 569.07 L216.80 569.31 L217.05 569.55 L217.30 569.80 L217.55 570.04 L217.80 570.28 L218.05 570.52 L218.30 570.76 L218.55 571.00 L218.80 571.23 L219.05 571.45 L219.30 571.67 L219.55 571.89 L219.80 572.09 L220.05 572.29 L220.30 572.48 L220.55 572.66 L220.80 572.83 L221.05 572.99 L221.30 573.14 L221.55 573.27 L221.80 573.39 L222.05 573.50 L222.30 573.59 L222.55 573.67 L222.80 573.73 L223.05 573.77 L223.30 573.79 L223.55 573.80 L223.80 573.78 L224.05 573.75 L224.30 573.69 L224.55 573.62 L224.80 573.53 L225.05 573.42 L225.30 573.29 L225.55 573.15 L225.80 572.99 L226.05 572.82 L226.30 572.64 L226.55 572.44 L226.80 572.23 L227.05 572.01 L227.30 571.78 L227.55 571.55 L227.80 571.30 L228.05 571.05 L228.30 570.79 L228.55 570.52 L228.80 570.25 L229.05 569.97 L229.30 569.70 L229.55 569.42 L229.80 569.13 L230.05 568.85 L230.30 568.57 L230.55 568.28 L230.80 568.00 L231.05 567.73 L231.30 567.45 L231.55 567.18 L231.80 566.91 L232.05 566.65 L232.30 566.40 L232.55 566.15 L232.80 565.92 L233.05 565.69 L233.30 565.47 L233.55 565.26 L233.80 565.06 L234.05 564.88 L234.30 564.71 L234.55 564.55 L234.80 564.41 L235.05 564.28 L235.30 564.17 L235.55 564.08 L235.80 564.01 L236.05 563.95 L236.30 563.92 L236.55 563.90 L236.80 563.91 L237.05 563.93 L237.30 563.98 L237.55 564.04 L237.80 564.13 L238.05 564.23 L238.30 564.34 L238.55 564.48 L238.80 564.63 L239.05 564.79 L239.30 564.96 L239.55 565.15 L239.80 565.35 L240.05 565.56 L240.30 565.78 L240.55 566.02 L240.80 566.26 L241.05 566.50 L241.30 566.76 L241.55 567.02 L241.80 567.29 L242.05 567.56 L242.30 567.84 L242.55 568.12 L242.80 568.40 L243.05 568.69 L243.30 568.98 L243.55 569.26 L243.80 569.55 L244.05 569.84 L244.30 570.12 L244.55 570.40 L244.80 570.68 L245.05 570.96 L245.30 571.23 L245.55 571.49 L245.80 571.75 L246.05 572.00 L246.30 572.24 L246.55 572.47 L246.80 572.69 L247.05 572.91 L247.30 573.11 L247.55 573.30 L247.80 573.48 L248.05 573.64 L248.30 573.79 L248.55 573.93 L248.80 574.05 L249.05 574.15 L249.30 574.24 L249.55 574.31 L249.80 574.36 L250.05 574.39 L250.30 574.40 L250.55 574.39 L250.80 574.36 L251.05 574.30 L251.30 574.23 L251.55 574.14 L251.80 574.03 L252.05 573.90 L252.30 573.75 L252.55 573.59 L252.80 573.42 L253.05 573.23 L253.30 573.03 L253.55 572.81 L253.80 572.59 L254.05 572.35 L254.30 572.11 L254.55 571.85 L254.80 571.59 L255.05 571.32 L255.30 571.04 L255.55 570.76 L255.80 570.48 L256.05 570.19 L256.30 569.90 L256.55 569.60 L256.80 569.31 L257.05 569.01 L257.30 568.72 L257.55 568.43 L257.80 568.14 L258.05 567.85 L258.30 567.57 L258.55 567.29 L258.80 567.02 L259.05 566.75 L259.30 566.50 L259.55 566.25 L259.80 566.01 L260.05 565.78 L260.30 565.56 L260.55 565.35 L260.80 565.16 L261.05 564.98 L261.30 564.81 L261.55 564.66 L261.80 564.52 L262.05 564.41 L262.30 564.31 L262.55 564.22 L262.80 564.16 L263.05 564.12 L263.30 564.10 L263.55 564.10 L263.80 564.12 L264.05 564.16 L264.30 564.21 L264.55 564.28 L264.80 564.36 L265.05 564.46 L265.30 564.57 L265.55 564.69 L265.80 564.82 L266.05 564.97 L266.30 565.13 L266.55 565.29 L266.80 565.47 L267.05 565.66 L267.30 565.85 L267.55 566.05 L267.80 566.26 L268.05 566.47 L268.30 566.70 L268.55 566.92 L268.80 567.15 L269.05 567.38 L269.30 567.62 L269.55 567.86 L269.80 568.10 L270.05 568.34 L270.30 568.59 L270.55 568.83 L270.80 569.07 L271.05 569.31 L271.30 569.55 L271.55 569.78 L271.80 570.02 L272.05 570.24 L272.30 570.47 L272.55 570.68 L272.80 570.90 L273.05 571.10 L273.30 571.30 L273.55 571.49 L273.80 571.67 L274.05 571.84 L274.30 572.00 L274.55 572.16 L274.80 572.30 L275.05 572.42 L275.30 572.52 L275.55 572.60 L275.80 572.67 L276.05 572.74 L276.30 572.83 L276.55 572.95 L276.80 573.12 L277.05 573.65 L277.30 575.55 L277.55 578.27 L277.80 581.11 L278.05 583.40 L278.30 585.44 L278.55 587.51 L278.80 589.55 L279.05 591.50 L279.30 593.30 L279.55 594.88 L279.80 596.19 L280.05 597.17 L280.30 598.02 L280.55 598.85 L280.80 599.66 L281.05 600.43 L281.30 601.17 L281.55 601.88 L281.80 602.55 L282.05 603.18 L282.30 603.76 L282.55 604.29 L282.80 604.77 L283.05 605.20 L283.30 605.56 L283.55 605.87 L283.80 606.11 L284.05 606.28 L284.30 606.38 L284.55 606.40 L284.80 606.29 L285.05 606.05 L285.30 605.67 L285.55 605.18 L285.80 604.58 L286.05 603.88 L286.30 603.10 L286.55 602.24 L286.80 601.31 L287.05 600.33 L287.30 599.31 L287.55 598.25 L287.80 597.17 L288.05 596.09 L288.30 595.00 L288.55 593.92 L288.80 592.86 L289.05 591.84 L289.30 590.86 L289.55 589.93 L289.80 589.05 L290.05 588.15 L290.30 587.21 L290.55 586.23 L290.80 585.21 L291.05 584.16 L291.30 583.07 L291.55 581.96 L291.80 580.83 L292.05 579.67 L292.30 578.49 L292.55 577.30 L292.80 576.10 L293.05 574.89 L293.30 573.67 L293.55 572.45 L293.80 571.23 L294.05 570.02 L294.30 568.81 L294.55 567.61 L294.80 566.42 L295.05 565.25 L295.30 564.10 L295.55 562.97 L295.80 561.87 L296.05 560.79 L296.30 559.75 L296.55 558.74 L296.80 557.77 L297.05 556.84 L297.30 555.96 L297.55 555.12 L297.80 554.34 L298.05 553.60 L298.30 552.93 L298.55 552.31 L298.80 551.75 L299.05 551.27 L299.30 550.85 L299.55 550.50 L299.80 550.23 L300.05 550.04 L300.30 549.93 L300.55 549.90 L300.80 549.93 L301.05 550.00 L301.30 550.10 L301.55 550.25 L301.80 550.43 L302.05 550.64 L302.30 550.89 L302.55 551.17 L302.80 551.47 L303.05 551.81 L303.30 552.18 L303.55 552.58 L303.80 553.00 L304.05 553.44 L304.30 553.91 L304.55 554.40 L304.80 554.91 L305.05 555.44 L305.30 555.98 L305.55 556.55 L305.80 557.13 L306.05 557.72 L306.30 558.33 L306.55 558.95 L306.80 559.58 L307.05 560.22 L307.30 560.87 L307.55 561.52 L307.80 562.18 L308.05 562.85 L308.30 563.51 L308.55 564.18 L308.80 564.85 L309.05 565.52 L309.30 566.19 L309.55 566.85 L309.80 567.51 L310.05 568.16 L310.30 568.81 L310.55 569.45 L310.80 570.07 L311.05 570.69 L311.30 571.30 L311.55 571.89 L311.80 572.47 L312.05 573.03 L312.30 573.57 L312.55 574.10 L312.80 574.60 L313.05 575.09 L313.30 575.55 L313.55 575.99 L313.80 576.41 L314.05 576.79 L314.30 577.16 L314.55 577.49 L314.80 577.79 L315.05 578.07 L315.30 578.31 L315.55 578.51 L315.80 578.68 L316.05 578.82 L316.30 578.92 L316.55 578.98 L316.80 579.00 L317.05 578.99 L317.30 578.95 L317.55 578.89 L317.80 578.82 L318.05 578.72 L318.30 578.60 L318.55 578.46 L318.80 578.30 L319.05 578.13 L319.30 577.94 L319.55 577.73 L319.80 577.51 L320.05 577.28 L320.30 577.03 L320.55 576.77 L320.80 576.51 L321.05 576.23 L321.30 575.94 L321.55 575.65 L321.80 575.34 L322.05 575.04 L322.30 574.72 L322.55 574.40 L322.80 574.08 L323.05 573.76 L323.30 573.43 L323.55 573.10 L323.80 572.78 L324.05 572.45 L324.30 572.12 L324.55 571.80 L324.80 571.48 L325.05 571.17 L325.30 570.86 L325.55 570.56 L325.80 570.27 L326.05 569.98 L326.30 569.70 L326.55 569.43 L326.80 569.18 L327.05 568.93 L327.30 568.70 L327.55 568.48 L327.80 568.27 L328.05 568.09 L328.30 567.91 L328.55 567.76 L328.80 567.62 L329.05 567.50 L329.30 567.40 L329.55 567.31 L329.80 567.22 L330.05 567.14 L330.30 567.05 L330.55 566.96 L330.80 566.88 L331.05 566.79 L331.30 566.71 L331.55 566.63 L331.80 566.54 L332.05 566.46 L332.30 566.38 L332.55 566.31 L332.80 566.23 L333.05 566.15 L333.30 566.08 L333.55 566.01 L333.80 565.94 L334.05 565.87 L334.30 565.80 L334.55 565.73 L334.80 565.67 L335.05 565.60 L335.30 565.54 L335.55 565.48 L335.80 565.43 L336.05 565.37 L336.30 565.32 L336.55 565.27 L336.80 565.22 L337.05 565.17 L337.30 565.13 L337.55 565.09 L337.80 565.05 L338.05 565.01 L338.30 564.98 L338.55 564.95 L338.80 564.92 L339.05 564.90 L339.30 564.87 L339.55 564.85 L339.80 564.84 L340.05 564.82 L340.30 564.81 L340.55 564.81 L340.80 564.80 L341.05 564.80 L341.30 564.81 L341.55 564.83 L341.80 564.86 L342.05 564.90 L342.30 564.95 L342.55 565.01 L342.80 565.08 L343.05 565.16 L343.30 565.24 L343.55 565.34 L343.80 565.44 L344.05 565.56 L344.30 565.68 L344.55 565.80 L344.80 565.94 L345.05 566.08 L345.30 566.23 L345.55 566.38 L345.80 566.54 L346.05 566.71 L346.30 566.88 L346.55 567.05 L346.80 567.23 L347.05 567.41 L347.30 567.60 L347.55 567.79 L347.80 567.99 L348.05 568.19 L348.30 568.39 L348.55 568.59 L348.80 568.79 L349.05 569.00 L349.30 569.21 L349.55 569.42 L349.80 569.63 L350.05 569.84 L350.30 570.05 L350.55 570.26 L350.80 570.47 L351.05 570.68 L351.30 570.89 L351.55 571.10 L351.80 571.30 L352.05 571.50 L352.30 571.71 L352.55 571.91 L352.80 572.10 L353.05 572.29 L353.30 572.48 L353.55 572.67 L353.80 572.85 L354.05 573.03 L354.30 573.20 L354.55 573.37 L354.80 573.56 L355.05 573.76 L355.30 573.76 L355.55 573.43 L355.80 573.00 L356.05 572.59 L356.30 572.13 L356.55 571.63 L356.80 571.11 L357.05 570.57 L357.30 570.02 L357.55 569.47 L357.80 568.92 L358.05 568.40 L358.30 567.86 L358.55 567.31 L358.80 566.75 L359.05 566.19 L359.30 565.63 L359.55 565.08 L359.80 564.55 L360.05 564.04 L360.30 563.56 L360.55 563.11 L360.80 562.68 L361.05 562.26 L361.30 561.84 L361.55 561.43 L361.80 561.03 L362.05 560.66 L362.30 560.29 L362.55 559.96 L362.80 559.64 L363.05 559.35 L363.30 559.09 L363.55 558.86 L363.80 558.63 L364.05 558.40 L364.30 558.17 L364.55 557.94 L364.80 557.73 L365.05 557.52 L365.30 557.32 L365.55 557.13 L365.80 556.96 L366.05 556.81 L366.30 556.68 L366.55 556.57 L366.80 556.49 L367.05 556.43 L367.30 556.40 L367.55 556.40 L367.80 556.43 L368.05 556.48 L368.30 556.56 L368.55 556.66 L368.80 556.78 L369.05 556.92 L369.30 557.08 L369.55 557.26 L369.80 557.47 L370.05 557.69 L370.30 557.93 L370.55 558.19 L370.80 558.46 L371.05 558.76 L371.30 559.06 L371.55 559.39 L371.80 559.73 L372.05 560.08 L372.30 560.45 L372.55 560.83 L372.80 561.22 L373.05 561.62 L373.30 562.04 L373.55 562.46 L373.80 562.90 L374.05 563.34 L374.30 563.80 L374.55 564.26 L374.80 564.73 L375.05 565.20 L375.30 565.69 L375.55 566.17 L375.80 566.67 L376.05 567.16 L376.30 567.66 L376.55 568.17 L376.80 568.67 L377.05 569.18 L377.30 569.69 L377.55 570.20 L377.80 570.71 L378.05 571.22 L378.30 571.73 L378.55 572.23 L378.80 572.74 L379.05 573.24 L379.30 573.73 L379.55 574.23 L379.80 574.71 L380.05 575.20 L380.30 575.67 L380.55 576.14 L380.80 576.60 L381.05 577.06 L381.30 577.50 L381.55 577.94 L381.80 578.36 L382.05 578.78 L382.30 579.18 L382.55 579.57 L382.80 579.95 L383.05 580.32 L383.30 580.67 L383.55 581.01 L383.80 581.34 L384.05 581.64 L384.30 581.94 L384.55 582.21 L384.80 582.47 L385.05 582.71 L385.30 582.93 L385.55 583.14 L385.80 583.32 L386.05 583.48 L386.30 583.62 L386.55 583.74 L386.80 583.84 L387.05 583.92 L387.30 583.97 L387.55 584.00 L387.80 584.00 L388.05 583.97 L388.30 583.90 L388.55 583.80 L388.80 583.66 L389.05 583.50 L389.30 583.30 L389.55 583.08 L389.80 582.83 L390.05 582.55 L390.30 582.24 L390.55 581.91 L390.80 581.55 L391.05 581.17 L391.30 580.77 L391.55 580.34 L391.80 579.90 L392.05 579.44 L392.30 578.96 L392.55 578.46 L392.80 577.94 L393.05 577.42 L393.30 576.87 L393.55 576.32 L393.80 575.75 L394.05 575.17 L394.30 574.58 L394.55 573.99 L394.80 573.38 L395.05 572.77 L395.30 572.15 L395.55 571.53 L395.80 570.91 L396.05 570.28 L396.30 569.65 L396.55 569.02 L396.80 568.39 L397.05 567.77 L397.30 567.14 L397.55 566.52 L397.80 565.91 L398.05 565.30 L398.30 564.69 L398.55 564.10 L398.80 563.51 L399.05 562.94 L399.30 562.37 L399.55 561.82 L399.80 561.28 L400.05 560.75 L400.30 560.24 L400.55 559.75 L400.80 559.27 L401.05 558.81 L401.30 558.37 L401.55 557.95 L401.80 557.55 L402.05 557.18 L402.30 556.83 L402.55 556.50 L402.80 556.20 L403.05 555.92 L403.30 555.67 L403.55 555.45 L403.80 555.26 L404.05 555.11 L404.30 554.98 L404.55 554.89 L404.80 554.83 L405.05 554.80 L405.30 554.81 L405.55 554.87 L405.80 554.96 L406.05 555.09 L406.30 555.26 L406.55 555.47 L406.80 555.71 L407.05 555.98 L407.30 556.29 L407.55 556.62 L407.80 556.99 L408.05 557.38 L408.30 557.80 L408.55 558.24 L408.80 558.71 L409.05 559.20 L409.30 559.71 L409.55 560.24 L409.80 560.79 L410.05 561.35 L410.30 561.93 L410.55 562.52 L410.80 563.13 L411.05 563.75 L411.30 564.37 L411.55 565.01 L411.80 565.65 L412.05 566.30 L412.30 566.95 L412.55 567.61 L412.80 568.27 L413.05 568.93 L413.30 569.58 L413.55 570.24 L413.80 570.89 L414.05 571.53 L414.30 572.17 L414.55 572.80 L414.80 573.42 L415.05 574.04 L415.30 574.63 L415.55 575.22 L415.80 575.79 L416.05 576.34 L416.30 576.88 L416.55 577.40 L416.80 577.90 L417.05 578.37 L417.30 578.83 L417.55 579.25 L417.80 579.66 L418.05 580.03 L418.30 580.38 L418.55 580.70 L418.80 580.98 L419.05 581.24 L419.30 581.46 L419.55 581.64 L419.80 581.79 L420.05 581.90 L420.30 581.97 L420.55 582.00 L420.80 581.98 L421.05 581.88 L421.30 581.72 L421.55 581.49 L421.80 581.20 L422.05 580.86 L422.30 580.47 L422.55 580.04 L422.80 579.56 L423.05 579.05 L423.30 578.51 L423.55 577.95 L423.80 577.36 L424.05 576.76 L424.30 576.14 L424.55 575.52 L424.80 574.89 L425.05 574.27 L425.30 573.65 L425.55 573.04 L425.80 572.45 L426.05 571.89 L426.30 571.34 L426.55 570.83 L426.80 570.35 L427.05 569.92 L427.30 569.49 L427.55 569.07 L427.80 568.65 L428.05 568.23 L428.30 567.81 L428.55 567.39 L428.80 566.98 L429.05 566.56 L429.30 566.16 L429.55 565.75 L429.80 565.35 L430.05 564.95 L430.30 564.55 L430.55 564.16 L430.80 563.77 L431.05 563.39 L431.30 563.01 L431.55 562.63 L431.80 562.26 L432.05 561.90 L432.30 561.54 L432.55 561.19 L432.80 560.84 L433.05 560.50 L433.30 560.16 L433.55 559.83 L433.80 559.45 L434.05 559.31 L434.30 559.65 L434.55 560.27 L434.80 561.16 L435.05 562.62 L435.30 564.46 L435.55 566.48 L435.80 568.46 L436.05 570.20 L436.30 571.64 L436.55 573.00 L436.80 574.29 L437.05 575.54 L437.30 576.76 L437.55 577.96 L437.80 579.16 L438.05 580.37 L438.30 581.57 L438.55 582.77 L438.80 583.95 L439.05 585.11 L439.30 586.24 L439.55 587.33 L439.80 588.38 L440.05 589.37 L440.30 590.30 L440.55 591.17 L440.80 592.03 L441.05 592.92 L441.30 593.83 L441.55 594.73 L441.80 595.63 L442.05 596.51 L442.30 597.36 L442.55 598.18 L442.80 598.93 L443.05 599.63 L443.30 600.25 L443.55 600.79 L443.80 601.24 L444.05 601.58 L444.30 601.80 L444.55 601.90 L444.80 601.88 L445.05 601.78 L445.30 601.62 L445.55 601.39 L445.80 601.10 L446.05 600.74 L446.30 600.32 L446.55 599.85 L446.80 599.31 L447.05 598.73 L447.30 598.09 L447.55 597.41 L447.80 596.67 L448.05 595.90 L448.30 595.07 L448.55 594.21 L448.80 593.31 L449.05 592.38 L449.30 591.41 L449.55 590.41 L449.80 589.38 L450.05 588.32 L450.30 587.24 L450.55 586.14 L450.80 585.01 L451.05 583.87 L451.30 582.71 L451.55 581.54 L451.80 580.35 L452.05 579.16 L452.30 577.96 L452.55 576.75 L452.80 575.54 L453.05 574.33 L453.30 573.13 L453.55 571.92 L453.80 570.73 L454.05 569.54 L454.30 568.36 L454.55 567.19 L454.80 566.04 L455.05 564.91 L455.30 563.80 L455.55 562.71 L455.80 561.64 L456.05 560.60 L456.30 559.59 L456.55 558.61 L456.80 557.66 L457.05 556.74 L457.30 555.87 L457.55 555.03 L457.80 554.23 L458.05 553.48 L458.30 552.78 L458.55 552.12 L458.80 551.51 L459.05 550.96 L459.30 550.46 L459.55 550.02 L459.80 549.64 L460.05 549.32 L460.30 549.06 L460.55 548.87 L460.80 548.75 L461.05 548.70 L461.30 548.72 L461.55 548.78 L461.80 548.90 L462.05 549.06 L462.30 549.27 L462.55 549.52 L462.80 549.81 L463.05 550.15 L463.30 550.52 L463.55 550.93 L463.80 551.38 L464.05 551.86 L464.30 552.37 L464.55 552.91 L464.80 553.49 L465.05 554.09 L465.30 554.71 L465.55 555.36 L465.80 556.03 L466.05 556.72 L466.30 557.43 L466.55 558.16 L466.80 558.90 L467.05 559.65 L467.30 560.42 L467.55 561.20 L467.80 561.99 L468.05 562.78 L468.30 563.58 L468.55 564.38 L468.80 565.19 L469.05 565.99 L469.30 566.80 L469.55 567.60 L469.80 568.40 L470.05 569.19 L470.30 569.97 L470.55 570.74 L470.80 571.50 L471.05 572.25 L471.30 572.98 L471.55 573.70 L471.80 574.40 L472.05 575.08 L472.30 575.73 L472.55 576.37 L472.80 576.98 L473.05 577.56 L473.30 578.11 L473.55 578.64 L473.80 579.13 L474.05 579.59 L474.30 580.02 L474.55 580.41 L474.80 580.76 L475.05 581.07 L475.30 581.34 L475.55 581.56 L475.80 581.74 L476.05 581.88 L476.30 581.96 L476.55 582.00 L476.80 581.99 L477.05 581.95 L477.30 581.88 L477.55 581.78 L477.80 581.66 L478.05 581.50 L478.30 581.33 L478.55 581.12 L478.80 580.90 L479.05 580.65 L479.30 580.38 L479.55 580.09 L479.80 579.78 L480.05 579.46 L480.30 579.11 L480.55 578.75 L480.80 578.38 L481.05 577.99 L481.30 577.59 L481.55 577.18 L481.80 576.76 L482.05 576.32 L482.30 575.88 L482.55 575.44 L482.80 574.98 L483.05 574.52 L483.30 574.06 L483.55 573.59 L483.80 573.12 L484.05 572.65 L484.30 572.18 L484.55 571.71 L484.80 571.24 L485.05 570.78 L485.30 570.32 L485.55 569.86 L485.80 569.42 L486.05 568.98 L486.30 568.54 L486.55 568.12 L486.80 567.71 L487.05 567.31 L487.30 566.92 L487.55 566.55 L487.80 566.19 L488.05 565.84 L488.30 565.52 L488.55 565.21 L488.80 564.92 L489.05 564.65 L489.30 564.40 L489.55 564.18 L489.80 563.97 L490.05 563.80 L490.30 563.64 L490.55 563.52 L490.80 563.42 L491.05 563.35 L491.30 563.31 L491.55 563.30 L491.80 563.31 L492.05 563.34 L492.30 563.38 L492.55 563.43 L492.80 563.50 L493.05 563.58 L493.30 563.67 L493.55 563.78 L493.80 563.89 L494.05 564.01 L494.30 564.13 L494.55 564.27 L494.80 564.41 L495.05 564.56 L495.30 564.71 L495.55 564.86 L495.80 565.02 L496.05 565.18 L496.30 565.34 L496.55 565.50 L496.80 565.65 L497.05 565.81 L497.30 565.97 L497.55 566.12 L497.80 566.27 L498.05 566.41 L498.30 566.55 L498.55 566.68 L498.80 566.81 L499.05 566.92 L499.30 567.04 L499.55 567.16 L499.80 567.28 L500.05 567.40 L500.30 567.52 L500.55 567.65 L500.80 567.77 L501.05 567.89 L501.30 568.01 L501.55 568.13 L501.80 568.25 L502.05 568.36 L502.30 568.47 L502.55 568.58 L502.80 568.68 L503.05 568.77 L503.30 568.86 L503.55 568.95 L503.80 569.02 L504.05 569.09 L504.30 569.15 L504.55 569.21 L504.80 569.26 L505.05 569.31 L505.30 569.36 L505.55 569.41 L505.80 569.46 L506.05 569.50 L506.30 569.55 L506.55 569.59 L506.80 569.63 L507.05 569.67 L507.30 569.70 L507.55 569.74 L507.80 569.78 L508.05 569.81 L508.30 569.85 L508.55 569.88 L508.80 569.92 L509.05 569.95 L509.30 569.99 L509.55 570.02 L509.80 570.06 L510.05 570.09 L510.30 570.13 L510.55 570.16 L510.80 570.20 L511.05 570.24 L511.30 570.28 L511.55 570.33 L511.80 570.37 L512.05 570.42 L512.30 570.47 L512.55 570.52 L512.80 570.57 L513.05 570.62 L513.30 570.68 L513.55 570.73 L513.80 570.79 L514.05 570.85 L514.30 570.91 L514.55 570.96 L514.80 571.02 L515.05 571.08 L515.30 571.13 L515.55 571.19 L515.80 571.24 L516.05 571.30 L516.30 571.35 L516.55 571.40 L516.80 571.45 L517.05 571.49 L517.30 571.54 L517.55 571.58 L517.80 571.62 L518.05 571.65 L518.30 571.68 L518.55 571.71 L518.80 571.74 L519.05 571.76 L519.30 571.78 L519.55 571.79 L519.80 571.80 L520.05 571.80 L520.30 571.80 L520.55 571.78 L520.80 571.75 L521.05 571.70 L521.30 571.65 L521.55 571.58 L521.80 571.51 L522.05 571.42 L522.30 571.33 L522.55 571.23 L522.80 571.13 L523.05 571.02 L523.30 570.91 L523.55 570.79 L523.80 570.67 L524.05 570.55 L524.30 570.43 L524.55 570.31 L524.80 570.19 L525.05 570.08 L525.30 569.95 L525.55 569.81 L525.80 569.67 L526.05 569.51 L526.30 569.34 L526.55 569.17 L526.80 568.99 L527.05 568.82 L527.30 568.63 L527.55 568.45 L527.80 568.28 L528.05 568.10 L528.30 567.93 L528.55 567.77 L528.80 567.61 L529.05 567.45 L529.30 567.30 L529.55 567.15 L529.80 567.00 L530.05 566.85 L530.30 566.70 L530.55 566.55 L530.80 566.40 L531.05 566.24 L531.30 566.08 L531.55 565.92 L531.80 565.75 L532.05 565.58 L532.30 565.40 L532.55 565.23 L532.80 565.00 L533.05 564.35 L533.30 563.13 L533.55 561.50 L533.80 559.64 L534.05 557.71 L534.30 555.87 L534.55 554.20 L534.80 552.42 L535.05 550.53 L535.30 548.60 L535.55 546.67 L535.80 544.80 L536.05 543.05 L536.30 541.46 L536.55 540.09 L536.80 538.97 L537.05 537.90 L537.30 536.84 L537.55 535.78 L537.80 534.76 L538.05 533.77 L538.30 532.83 L538.55 531.94 L538.80 531.13 L539.05 530.39 L539.30 529.74 L539.55 529.19 L539.80 528.75 L540.05 528.43 L540.30 528.25 L540.55 528.20 L540.80 528.28 L541.05 528.47 L541.30 528.77 L541.55 529.15 L541.80 529.62 L542.05 530.17 L542.30 530.79 L542.55 531.47 L542.80 532.20 L543.05 532.98 L543.30 533.80 L543.55 534.65 L543.80 535.51 L544.05 536.40 L544.30 537.29 L544.55 538.18 L544.80 539.05 L545.05 539.94 L545.30 540.92 L545.55 542.01 L545.80 543.17 L546.05 544.41 L546.30 545.69 L546.55 547.02 L546.80 548.37 L547.05 549.74 L547.30 551.10 L547.55 552.52 L547.80 554.05 L548.05 555.67 L548.30 557.36 L548.55 559.10 L548.80 560.85 L549.05 562.60 L549.30 564.32 L549.55 565.99 L549.80 567.60 L550.05 569.10 L550.30 570.48 L550.55 571.72 L550.80 572.80 L551.05 573.79 L551.30 574.78 L551.55 575.76 L551.80 576.75 L552.05 577.72 L552.30 578.69 L552.55 579.64 L552.80 580.57 L553.05 581.48 L553.30 582.36 L553.55 583.21 L553.80 584.03 L554.05 584.81 L554.30 585.55 L554.55 586.25 L554.80 586.90 L555.05 587.49 L555.30 588.04 L555.55 588.52 L555.80 588.94 L556.05 589.30 L556.30 589.59 L556.55 589.80 L556.80 589.94 L557.05 590.00 L557.30 589.98 L557.55 589.90 L557.80 589.76 L558.05 589.56 L558.30 589.31 L558.55 589.01 L558.80 588.65 L559.05 588.25 L559.30 587.80 L559.55 587.31 L559.80 586.77 L560.05 586.19 L560.30 585.58 L560.55 584.93 L560.80 584.24 L561.05 583.53 L561.30 582.78 L561.55 582.01 L561.80 581.21 L562.05 580.39 L562.30 579.54 L562.55 578.68 L562.80 577.80 L563.05 576.91 L563.30 576.00 L563.55 575.08 L563.80 574.16 L564.05 573.22 L564.30 572.29 L564.55 571.35 L564.80 570.41 L565.05 569.48 L565.30 568.54 L565.55 567.62 L565.80 566.70 L566.05 565.79 L566.30 564.90 L566.55 564.02 L566.80 563.16 L567.05 562.31 L567.30 561.49 L567.55 560.69 L567.80 559.92 L568.05 559.17 L568.30 558.46 L568.55 557.77 L568.80 557.12 L569.05 556.51 L569.30 555.93 L569.55 555.39 L569.80 554.90 L570.05 554.45 L570.30 554.05 L570.55 553.69 L570.80 553.39 L571.05 553.14 L571.30 552.94 L571.55 552.80 L571.80 552.72 L572.05 552.70 L572.30 552.72 L572.55 552.78 L572.80 552.87 L573.05 552.99 L573.30 553.14 L573.55 553.32 L573.80 553.52 L574.05 553.76 L574.30 554.01 L574.55 554.30 L574.80 554.60 L575.05 554.93 L575.30 555.28 L575.55 555.66 L575.80 556.05 L576.05 556.46 L576.30 556.88 L576.55 557.32 L576.80 557.78 L577.05 558.25 L577.30 558.74 L577.55 559.23 L577.80 559.74 L578.05 560.26 L578.30 560.78 L578.55 561.32 L578.80 561.86 L579.05 562.41 L579.30 562.96 L579.55 563.51 L579.80 564.07 L580.05 564.63 L580.30 565.19 L580.55 565.74 L580.80 566.30 L581.05 566.85 L581.30 567.40 L581.55 567.95 L581.80 568.49 L582.05 569.02 L582.30 569.55 L582.55 570.06 L582.80 570.57 L583.05 571.06 L583.30 571.54 L583.55 572.01 L583.80 572.47 L584.05 572.91 L584.30 573.33 L584.55 573.73 L584.80 574.12 L585.05 574.49 L585.30 574.83 L585.55 575.16 L585.80 575.46 L586.05 575.74 L586.30 575.99 L586.55 576.22 L586.80 576.42 L587.05 576.59 L587.30 576.74 L587.55 576.85 L587.80 576.93 L588.05 576.98 L588.30 577.00 L588.55 576.99 L588.80 576.96 L589.05 576.91 L589.30 576.84 L589.55 576.75 L589.80 576.65 L590.05 576.53 L590.30 576.39 L590.55 576.24 L590.80 576.08 L591.05 575.90 L591.30 575.71 L591.55 575.51 L591.80 575.29 L592.05 575.07 L592.30 574.84 L592.55 574.60 L592.80 574.35 L593.05 574.09 L593.30 573.83 L593.55 573.56 L593.80 573.28 L594.05 573.00 L594.30 572.72 L594.55 572.44 L594.80 572.15 L595.05 571.86 L595.30 571.58 L595.55 571.29 L595.80 571.00 L596.05 570.72 L596.30 570.44 L596.55 570.16 L596.80 569.89 L597.05 569.62 L597.30 569.36 L597.55 569.10 L597.80 568.86 L598.05 568.62 L598.30 568.38 L598.55 568.16 L598.80 567.95 L599.05 567.75 L599.30 567.56 L599.55 567.39 L599.80 567.23 L600.05 567.08 L600.30 566.94 L600.55 566.83 L600.80 566.73 L601.05 566.64 L601.30 566.58 L601.55 566.53 L601.80 566.51 L602.05 566.50 L602.30 566.51 L602.55 566.52 L602.80 566.54 L603.05 566.58 L603.30 566.61 L603.55 566.66 L603.80 566.71 L604.05 566.76 L604.30 566.82 L604.55 566.89 L604.80 566.96 L605.05 567.03 L605.30 567.10 L605.55 567.18 L605.80 567.26 L606.05 567.34 L606.30 567.42 L606.55 567.50 L606.80 567.57 L607.05 567.65 L607.30 567.73 L607.55 567.80 L607.80 567.87 L608.05 567.94 L608.30 568.00 L608.55 568.06 L608.80 568.11 L609.05 568.16 L609.30 568.20 L609.55 568.24 L609.80 568.27 L610.05 568.29 L610.30 568.30 L610.55 568.30 L610.80 568.30 L611.05 568.28 L611.30 568.27 L611.55 568.25 L611.80 568.22 L612.05 568.19 L612.30 568.15 L612.55 568.12 L612.80 568.08 L613.05 568.03 L613.30 567.99 L613.55 567.94 L613.80 567.89 L614.05 567.84 L614.30 567.79 L614.55 567.74 L614.80 567.69 L615.05 567.64 L615.30 567.60 L615.55 567.55 L615.80 567.51 L616.05 567.47 L616.30 567.43 L616.55 567.40 L616.80 567.37 L617.05 567.34 L617.30 567.32 L617.55 567.31 L617.80 567.30 L618.05 567.30 L618.30 567.31 L618.55 567.32 L618.80 567.34 L619.05 567.37 L619.30 567.40 L619.55 567.45 L619.80 567.50 L620.05 567.55 L620.30 567.61 L620.55 567.68 L620.80 567.75 L621.05 567.82 L621.30 567.91 L621.55 567.99 L621.80 568.08 L622.05 568.18 L622.30 568.27 L622.55 568.37 L622.80 568.48 L623.05 568.59 L623.30 568.69 L623.55 568.81 L623.80 568.92 L624.05 569.03 L624.30 569.15 L624.55 569.27 L624.80 569.39 L625.05 569.50 L625.30 569.62 L625.55 569.74 L625.80 569.86 L626.05 569.98 L626.30 570.10 L626.55 570.21 L626.80 570.33 L627.05 570.44 L627.30 570.55 L627.55 570.66 L627.80 570.76 L628.05 570.87 L628.30 570.97 L628.55 571.06 L628.80 571.15 L629.05 571.24 L629.30 571.33 L629.55 571.41 L629.80 571.48 L630.05 571.55 L630.30 571.61 L630.55 571.67 L630.80 571.73 L631.05 571.77 L631.30 571.81 L631.55 571.84 L631.80 571.87 L632.05 571.89 L632.30 571.90 L632.55 571.90 L632.80 571.89 L633.05 571.87 L633.30 571.84 L633.55 571.79 L633.80 571.73 L634.05 571.67 L634.30 571.59 L634.55 571.50 L634.80 571.41 L635.05 571.30 L635.30 571.19 L635.55 571.07 L635.80 570.94 L636.05 570.80 L636.30 570.66 L636.55 570.51 L636.80 570.36 L637.05 570.20 L637.30 570.03 L637.55 569.86 L637.80 569.69 L638.05 569.52 L638.30 569.34 L638.55 569.16 L638.80 568.97 L639.05 568.79 L639.30 568.60 L639.55 568.41 L639.80 568.23 L640.05 568.04 L640.30 567.85 L640.55 567.67 L640.80 567.48 L641.05 567.30 L641.30 567.12 L641.55 566.94 L641.80 566.77 L642.05 566.60 L642.30 566.43 L642.55 566.27 L642.80 566.12 L643.05 565.97 L643.30 565.83 L643.55 565.69 L643.80 565.56 L644.05 565.43 L644.30 565.32 L644.55 565.21 L644.80 565.11 L645.05 565.03 L645.30 564.95 L645.55 564.88 L645.80 564.82 L646.05 564.77 L646.30 564.74 L646.55 564.71 L646.80 564.70 L647.05 564.70 L647.30 564.72 L647.55 564.75 L647.80 564.80 L648.05 564.85 L648.30 564.93 L648.55 565.01 L648.80 565.11 L649.05 565.21 L649.30 565.33 L649.55 565.46 L649.80 565.60 L650.05 565.74 L650.30 565.90 L650.55 566.06 L650.80 566.23 L651.05 566.41 L651.30 566.60 L651.55 566.79 L651.80 566.98 L652.05 567.18 L652.30 567.39 L652.55 567.60 L652.80 567.81 L653.05 568.02 L653.30 568.24 L653.55 568.46 L653.80 568.68 L654.05 568.90 L654.30 569.12 L654.55 569.34 L654.80 569.56 L655.05 569.78 L655.30 569.99 L655.55 570.20 L655.80 570.41 L656.05 570.62 L656.30 570.82 L656.55 571.01 L656.80 571.20 L657.05 571.39 L657.30 571.57 L657.55 571.74 L657.80 571.90 L658.05 572.06 L658.30 572.20 L658.55 572.34 L658.80 572.47 L659.05 572.59 L659.30 572.69 L659.55 572.79 L659.80 572.87 L660.05 572.95 L660.30 573.00 L660.55 573.05 L660.80 573.08 L661.05 573.10 L661.30 573.10 L661.55 573.09 L661.80 573.07 L662.05 573.05 L662.30 573.02 L662.55 572.97 L662.80 572.92 L663.05 572.87 L663.30 572.80 L663.55 572.73 L663.80 572.64 L664.05 572.56 L664.30 572.46 L664.55 572.35 L664.80 572.24 L665.05 572.12 L665.30 572.00 L665.55 571.87 L665.80 571.73 L666.05 571.58 L666.30 571.43 L666.55 571.27 L666.80 571.11 L667.05 570.94 L667.30 570.76 L667.55 570.58 L667.80 570.39 L668.05 570.19 L668.30 570.00 L668.55 569.79 L668.80 569.58 L669.05 569.36 L669.30 569.14 L669.55 568.92 L669.80 568.69 L670.00 568.50" stroke="#0000ff" stroke-width="2.0" fill="none" stroke-linejoin="round" stroke-miterlimit="10"/>
<text x="79.80" y="871.5" font-size="18" text-anchor="middle" fill="#2b2b2b">0</text>
<text x="178.20" y="871.5" font-size="18" text-anchor="middle" fill="#2b2b2b">5</text>
<text x="276.60" y="871.5" font-size="18" text-anchor="middle" fill="#2b2b2b">10</text>
<text x="375.00" y="871.5" font-size="18" text-anchor="middle" fill="#2b2b2b">15</text>
<text x="473.40" y="871.5" font-size="18" text-anchor="middle" fill="#2b2b2b">20</text>
<text x="571.80" y="871.5" font-size="18" text-anchor="middle" fill="#2b2b2b">25</text>
<text x="670.20" y="871.5" font-size="18" text-anchor="middle" fill="#2b2b2b">30</text>
<text x="73.3" y="839.82" font-size="18" text-anchor="end" fill="#2b2b2b">-0.25</text>
<text x="73.3" y="787.10" font-size="18" text-anchor="end" fill="#2b2b2b">-0.2</text>
<text x="73.3" y="734.37" font-size="18" text-anchor="end" fill="#2b2b2b">-0.15</text>
<text x="73.3" y="681.65" font-size="18" text-anchor="end" fill="#2b2b2b">-0.1</text>
<text x="73.3" y="628.92" font-size="18" text-anchor="end" fill="#2b2b2b">-0.05</text>
<text x="73.3" y="576.20" font-size="18" text-anchor="end" fill="#2b2b2b">0</text>
<text x="73.3" y="523.47" font-size="18" text-anchor="end" fill="#2b2b2b">0.05</text>
<rect x="577" y="502" width="84.3" height="40.3" fill="#fff" stroke="#262626" stroke-width="1.4"/>
<line x1="579" y1="512.8" x2="607" y2="512.8" stroke="#000" stroke-width="2"/>
<line x1="579" y1="531.7" x2="607" y2="531.7" stroke="#0000ff" stroke-width="2"/>
<text x="614.3" y="518.6" font-size="16" fill="#2b2b2b">Area 1</text>
<text x="614.3" y="537.7" font-size="16" fill="#2b2b2b">Area 2</text>
<text x="375.9" y="895.5" font-size="20.4" text-anchor="middle">Time(s)</text>
<g transform="translate(27.9 710.7) rotate(-90)"><text transform="translate(-1.0 0) scale(1.18 1)" x="0" y="0" font-size="22.3">&#916;</text><text x="16.2" y="0" font-size="20.5">f(t)(Hz)</text></g>
<text x="372.3" y="935.1" font-size="16.6" text-anchor="middle">(b)</text>
</svg>
</body></html>
